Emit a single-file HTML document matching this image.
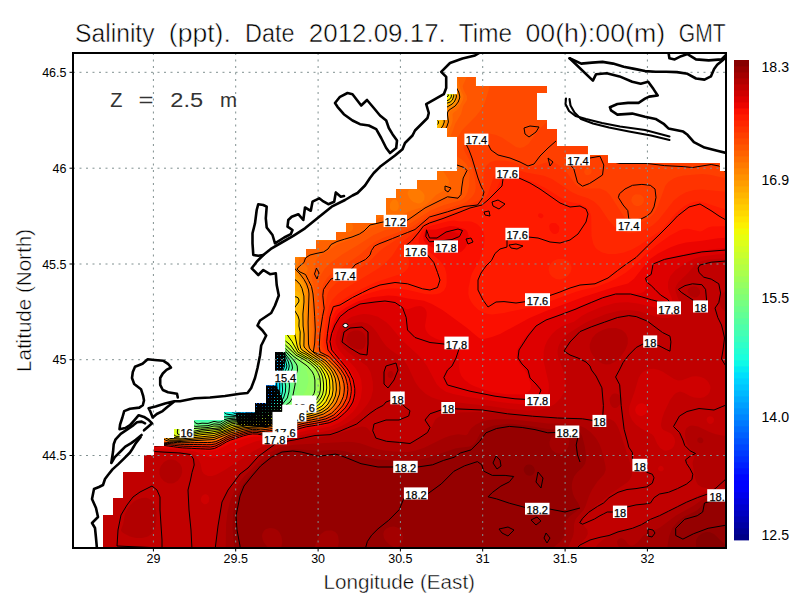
<!DOCTYPE html><html><head><meta charset="utf-8"><style>html,body{margin:0;padding:0;background:#fff;width:800px;height:600px;overflow:hidden}svg{display:block}text{font-family:"Liberation Sans",sans-serif}</style></head><body>
<svg width="800" height="600" viewBox="0 0 800 600">
<rect width="800" height="600" fill="#fff"/>
<defs><clipPath id="sea"><polygon points="457.0,77.0 475.5,77.0 475.5,86.0 547.0,86.0 547.0,93.0 537.0,93.0 537.0,120.0 547.0,120.0 547.0,129.0 557.0,129.0 557.0,146.0 587.5,146.0 587.5,155.5 608.0,155.5 608.0,163.0 719.5,163.0 719.5,171.5 726.0,171.5 726.0,548.0 103.0,548.0 103.0,515.0 113.0,515.0 113.0,498.0 123.0,498.0 123.0,472.0 144.0,472.0 144.0,455.0 154.0,455.0 154.0,446.0 164.0,446.0 164.0,438.0 174.0,438.0 174.0,429.0 194.0,429.0 194.0,420.5 224.0,420.5 224.0,412.5 255.0,412.5 255.0,403.0 266.0,403.0 266.0,385.5 275.0,385.5 275.0,352.0 285.5,352.0 285.5,335.0 295.0,335.0 295.0,257.5 306.0,257.5 306.0,249.0 316.0,249.0 316.0,240.5 336.0,240.5 336.0,232.0 346.0,232.0 346.0,223.0 376.0,223.0 376.0,215.0 386.0,215.0 386.0,198.0 396.0,198.0 396.0,189.0 417.0,189.0 417.0,180.0 437.0,180.0 437.0,171.0 457.0,171.0 457.0,136.5 447.0,136.5 447.0,128.0 437.5,128.0 437.5,120.0 447.0,120.0 447.0,94.5 457.0,94.5"/></clipPath><clipPath id="frm"><rect x="73" y="53" width="653" height="495"/></clipPath></defs>
<g clip-path="url(#sea)">
<rect x="60" y="40" width="700" height="520" fill="rgb(0,70,255)"/>
<path fill-rule="evenodd" fill="rgb(0,83,255)" d="M730.0 552.1 70.0 552.1 69.9 50.0 730.0 49.9 730.0 552.1Z"/>
<path fill-rule="evenodd" fill="rgb(0,96,255)" d="M730.0 552.1 70.0 552.1 69.9 50.0 730.0 49.9 730.0 552.1ZM263.4 404.0 263.3 400.0 262.0 396.9 260.0 396.5 258.0 397.0 257.2 398.0 256.8 400.0 257.6 404.0 260.0 405.9 262.0 405.6 263.4 404.0Z"/>
<path fill-rule="evenodd" fill="rgb(0,108,255)" d="M730.0 552.1 70.0 552.1 69.9 50.0 730.0 49.9 730.0 552.1ZM263.0 406.0 264.4 404.0 266.0 398.7 270.0 394.6 269.7 392.0 268.0 390.8 266.0 390.4 258.0 390.4 250.0 389.1 248.0 389.2 246.6 390.0 246.7 392.0 247.9 394.0 255.4 404.0 257.8 406.0 260.0 406.6 263.0 406.0Z"/>
<path fill-rule="evenodd" fill="rgb(0,121,255)" d="M730.0 552.1 70.0 552.1 69.9 50.0 730.0 49.9 730.0 552.1ZM264.1 406.0 266.8 400.0 270.6 396.0 271.5 394.0 271.2 392.0 270.0 390.1 261.4 386.0 258.6 384.0 247.9 374.0 245.1 372.0 238.1 368.0 231.7 366.0 231.7 368.0 234.0 372.1 238.8 378.0 241.1 382.0 242.0 388.9 244.0 393.1 248.0 399.0 252.4 404.0 255.5 406.0 260.0 407.3 262.0 407.1 264.1 406.0Z"/>
<path fill-rule="evenodd" fill="rgb(0,134,255)" d="M730.0 552.1 70.0 552.1 69.9 50.0 730.0 49.9 730.0 552.1ZM260.2 408.0 262.0 407.8 264.8 406.0 268.0 400.2 271.7 396.0 272.5 394.0 272.4 392.0 271.4 390.0 270.0 388.3 264.5 384.0 256.7 376.0 248.6 370.0 236.0 364.0 229.2 362.0 226.0 362.0 226.3 364.0 230.0 370.2 238.4 382.0 240.0 388.0 242.0 392.5 248.0 402.9 250.0 405.5 252.0 406.6 260.2 408.0Z"/>
<path fill-rule="evenodd" fill="rgb(0,147,255)" d="M730.0 552.1 70.0 552.1 69.9 50.0 730.0 49.9 730.0 552.1ZM250.2 410.0 254.0 408.2 262.0 408.3 265.5 406.0 268.0 401.7 272.6 396.0 273.2 392.0 272.0 388.8 263.3 378.0 258.7 374.0 252.6 370.0 236.0 362.5 227.0 360.0 224.1 360.0 223.9 362.0 226.0 365.9 232.0 375.4 237.0 382.0 240.0 390.8 244.0 399.6 248.0 408.0 249.6 410.0 250.2 410.0Z"/>
<path fill-rule="evenodd" fill="rgb(0,159,255)" d="M730.0 552.1 70.0 552.1 70.0 50.0 730.0 49.9 730.0 552.1ZM250.2 412.0 254.0 409.3 262.0 408.7 264.0 407.9 266.1 406.0 268.7 402.0 272.2 398.0 274.0 394.3 274.0 391.5 272.0 386.6 267.2 378.0 260.0 371.7 252.0 367.4 238.0 361.9 224.0 358.2 222.3 360.0 223.8 364.0 236.9 384.0 246.2 410.0 248.0 411.6 250.2 412.0Z"/>
<path fill-rule="evenodd" fill="rgb(0,172,255)" d="M730.0 552.1 70.0 552.1 70.0 50.0 730.0 49.9 730.0 552.1ZM251.9 412.0 254.0 410.3 256.0 409.5 262.0 409.1 264.6 408.0 266.8 406.0 274.2 396.0 274.8 394.0 274.5 390.0 272.3 384.0 270.6 376.0 268.9 372.0 266.8 370.0 262.4 368.0 234.0 359.5 224.0 356.9 222.0 357.0 221.2 358.0 222.0 362.2 236.0 384.0 240.6 398.0 243.8 410.0 248.0 412.6 250.0 412.9 251.9 412.0ZM274.7 370.0 278.0 367.8 278.7 366.0 278.0 363.9 276.0 363.4 273.9 364.0 271.6 366.0 270.3 368.0 270.8 370.0 272.0 370.4 274.7 370.0Z"/>
<path fill-rule="evenodd" fill="rgb(0,185,255)" d="M730.0 552.1 70.0 552.1 70.0 50.0 730.0 49.9 730.0 552.1ZM252.8 412.0 256.0 410.1 262.0 409.5 265.3 408.0 274.0 397.7 275.5 394.0 275.6 392.0 273.9 384.0 273.8 380.0 276.8 372.0 280.0 367.5 280.4 366.0 280.0 363.7 278.0 361.2 276.0 360.5 268.0 361.5 250.0 361.3 242.0 360.1 224.0 355.5 222.0 355.2 220.6 356.0 219.9 358.0 222.0 363.6 235.1 384.0 239.6 400.0 240.7 410.0 248.0 413.4 250.0 413.7 252.8 412.0Z"/>
<path fill-rule="evenodd" fill="rgb(0,198,255)" d="M730.0 552.1 70.0 552.1 70.0 50.0 730.0 49.9 730.0 552.1ZM250.7 414.0 256.0 410.7 262.0 409.9 266.0 408.0 274.6 398.0 275.7 396.0 276.4 392.0 275.2 384.0 275.5 380.0 277.5 374.0 281.5 366.0 281.3 364.0 280.0 361.1 278.0 358.7 276.0 357.9 242.0 357.2 232.7 356.0 222.0 353.3 220.0 353.7 219.0 356.0 219.1 358.0 220.4 362.0 233.1 382.0 234.9 386.0 237.7 398.0 238.4 410.0 240.0 412.1 244.0 412.6 248.0 414.1 250.7 414.0Z"/>
<path fill-rule="evenodd" fill="rgb(0,210,255)" d="M730.0 552.1 70.0 552.1 70.0 50.0 730.0 49.9 730.0 552.1ZM251.9 414.0 256.0 411.2 262.0 410.2 266.6 408.0 275.4 398.0 276.4 396.0 277.2 392.0 276.4 384.0 276.8 380.0 278.6 374.0 281.9 368.0 282.5 366.0 282.0 363.0 280.0 358.5 278.0 356.5 272.0 355.0 266.3 352.0 254.5 342.0 248.3 338.0 234.0 331.0 226.2 326.0 216.0 321.0 208.2 316.0 198.0 311.0 186.6 304.0 180.0 301.0 174.9 298.0 169.6 296.0 169.7 298.0 172.0 301.5 179.7 310.0 192.0 326.2 195.9 330.0 200.0 333.0 207.3 340.0 214.0 345.0 216.9 348.0 217.7 350.0 217.8 356.0 219.7 362.0 232.2 382.0 234.0 386.0 235.9 396.0 236.3 408.0 236.6 410.0 237.8 412.0 240.0 413.0 244.0 413.3 248.0 414.5 250.0 414.7 251.9 414.0Z"/>
<path fill-rule="evenodd" fill="rgb(0,223,252)" d="M730.0 552.1 70.0 552.1 70.0 50.0 730.0 49.9 730.0 552.1ZM252.6 414.0 256.0 411.7 263.9 410.0 267.3 408.0 274.8 400.0 277.2 396.0 278.0 392.0 277.5 384.0 277.8 380.0 279.5 374.0 282.8 368.0 283.3 366.0 282.5 362.0 280.0 356.6 278.0 355.0 272.0 352.4 262.7 344.0 254.0 338.0 232.0 326.8 228.1 324.0 214.0 316.8 206.5 312.0 196.0 306.8 188.5 302.0 172.7 294.0 166.7 292.0 162.0 291.3 161.2 292.0 162.1 294.0 167.3 300.0 170.0 304.0 175.7 310.0 192.0 331.0 204.0 342.1 212.0 348.2 215.3 352.0 218.9 362.0 232.2 384.0 234.0 394.0 234.3 408.0 234.8 410.0 236.2 412.0 240.0 414.0 244.0 414.0 250.0 415.1 252.6 414.0Z"/>
<path fill-rule="evenodd" fill="rgb(5,236,242)" d="M730.0 552.1 70.0 552.1 70.0 50.0 730.0 50.0 730.0 552.1ZM253.2 414.0 256.0 412.2 262.0 410.9 266.0 409.3 272.1 404.0 277.1 398.0 278.9 392.0 278.5 382.0 279.0 378.0 284.1 366.0 283.3 362.0 280.7 356.0 278.0 353.8 274.0 351.8 265.1 344.0 255.9 338.0 234.0 326.8 226.6 322.0 216.0 316.8 208.6 312.0 198.0 306.8 190.6 302.0 175.0 294.0 163.1 290.0 159.3 290.0 159.4 292.0 160.6 294.0 170.0 305.7 175.8 312.0 192.0 333.0 203.6 344.0 210.0 348.7 214.0 352.8 219.1 364.0 226.0 374.9 230.7 384.0 231.7 390.0 232.0 406.0 232.7 410.0 234.4 412.0 237.7 414.0 240.0 414.5 244.0 414.4 250.0 415.5 253.2 414.0Z"/>
<path fill-rule="evenodd" fill="rgb(15,249,231)" d="M730.0 552.1 70.0 552.1 70.0 50.0 730.0 50.0 730.0 552.1ZM253.9 414.0 256.0 412.6 264.0 410.7 268.0 408.4 274.9 402.0 277.9 398.0 279.7 392.0 279.4 382.0 279.8 378.0 281.1 374.0 284.4 368.0 284.8 366.0 284.1 362.0 281.6 356.0 280.0 354.2 274.0 350.2 266.9 344.0 260.6 340.0 250.0 334.0 236.0 327.1 228.0 322.0 218.0 317.1 210.0 312.0 196.0 304.8 192.0 302.0 176.3 294.0 171.4 292.0 162.0 289.3 158.0 289.5 157.5 290.0 159.4 294.0 164.7 300.0 168.0 304.7 174.7 312.0 192.0 334.6 202.0 344.6 210.0 350.8 214.0 355.4 216.9 362.0 224.0 373.4 228.2 382.0 229.1 386.0 229.4 406.0 230.1 410.0 231.8 412.0 236.1 414.0 240.0 415.0 244.0 414.8 250.0 415.9 253.9 414.0Z"/>
<path fill-rule="evenodd" fill="rgb(26,255,221)" d="M730.0 552.1 70.0 552.1 70.0 50.0 730.0 50.0 730.0 552.1ZM251.0 416.0 256.0 413.0 264.0 411.0 268.0 408.9 273.9 404.0 278.8 398.0 280.7 392.0 280.5 378.0 281.9 374.0 285.1 368.0 285.5 366.0 284.9 362.0 282.0 355.5 280.0 353.3 275.3 350.0 268.4 344.0 265.2 342.0 251.1 334.0 234.0 325.4 228.8 322.0 216.0 315.4 210.8 312.0 198.0 305.4 189.2 300.0 172.9 292.0 162.0 288.7 158.0 288.2 156.2 290.0 158.5 294.0 181.7 322.0 196.0 341.2 202.0 347.4 208.0 351.7 212.0 355.8 217.3 366.0 222.0 373.2 224.0 376.9 225.5 382.0 226.1 404.0 226.6 408.0 228.5 412.0 238.0 415.2 251.0 416.0Z"/>
<path fill-rule="evenodd" fill="rgb(36,255,211)" d="M730.0 552.1 70.0 552.1 70.0 50.0 730.0 50.0 730.0 552.1ZM252.0 416.0 256.0 413.4 264.0 411.4 268.0 409.4 274.9 404.0 279.7 398.0 281.3 394.0 281.8 390.0 281.3 378.0 282.0 375.4 285.9 368.0 286.3 366.0 284.9 360.0 282.0 354.5 272.2 346.0 266.4 342.0 252.1 334.0 234.0 324.9 226.3 320.0 216.0 314.9 208.3 310.0 198.0 304.9 190.2 300.0 174.0 292.0 161.2 288.0 156.0 287.6 154.7 288.0 155.1 290.0 158.0 294.6 182.0 323.6 193.0 340.0 197.4 352.0 200.0 362.3 206.0 381.0 208.0 386.6 212.0 394.2 220.6 404.0 225.8 412.0 228.0 413.7 240.0 416.0 244.0 415.7 250.0 416.6 252.0 416.0Z"/>
<path fill-rule="evenodd" fill="rgb(46,255,201)" d="M730.0 552.1 70.0 552.1 70.0 50.0 730.0 50.0 730.0 552.1ZM252.6 416.0 258.0 413.1 266.0 410.9 271.0 408.0 277.9 402.0 280.8 398.0 282.3 394.0 282.9 390.0 282.0 378.0 283.5 374.0 286.8 368.0 287.1 366.0 285.6 360.0 282.3 354.0 273.3 346.0 267.6 342.0 234.0 324.4 227.1 320.0 216.0 314.4 191.0 300.0 175.0 292.0 162.0 287.8 154.0 287.3 153.1 288.0 158.0 295.8 180.0 322.2 189.5 336.0 192.1 342.0 198.0 363.4 205.2 386.0 209.8 396.0 212.0 399.2 222.8 412.0 225.5 414.0 230.0 415.3 234.0 415.4 240.0 416.4 244.0 416.1 250.0 416.9 252.6 416.0Z"/>
<path fill-rule="evenodd" fill="rgb(57,255,190)" d="M730.0 552.1 70.0 552.1 70.0 50.0 730.0 50.0 730.0 552.1ZM253.2 416.0 256.7 414.0 264.0 412.1 270.0 409.2 277.0 404.0 281.8 398.0 283.3 394.0 283.9 390.0 282.8 378.0 284.0 374.6 286.9 370.0 287.9 366.0 286.4 360.0 282.9 354.0 274.3 346.0 268.6 342.0 236.0 325.1 227.9 320.0 218.0 315.1 191.8 300.0 175.8 292.0 164.0 288.0 154.0 286.2 152.0 287.5 151.8 288.0 153.0 290.0 157.2 296.0 180.0 323.4 188.0 335.1 190.7 342.0 196.1 362.0 203.4 386.0 208.7 398.0 216.0 408.2 221.4 414.0 228.0 415.9 234.0 416.0 240.0 416.8 244.0 416.4 250.0 417.3 253.2 416.0Z"/>
<path fill-rule="evenodd" fill="rgb(67,255,180)" d="M730.0 552.1 70.0 552.1 70.0 50.0 730.0 50.0 730.0 552.1ZM253.8 416.0 258.0 413.8 266.0 411.7 272.9 408.0 280.1 402.0 283.0 398.0 284.5 394.0 285.1 390.0 285.1 386.0 283.7 378.0 284.3 376.0 287.8 370.0 288.8 366.0 287.1 360.0 283.6 354.0 275.3 346.0 269.5 342.0 236.0 324.7 228.6 320.0 218.0 314.7 192.0 299.7 176.0 291.8 171.0 290.0 164.0 287.8 156.0 286.0 150.7 286.0 150.4 288.0 156.1 296.0 179.3 324.0 186.3 334.0 189.2 342.0 203.0 390.0 207.2 400.0 216.6 414.0 218.0 415.7 220.0 416.8 234.0 416.5 240.0 417.2 244.0 416.7 250.0 417.6 253.8 416.0Z"/>
<path fill-rule="evenodd" fill="rgb(77,255,170)" d="M730.0 552.1 70.0 552.1 70.0 50.0 730.0 50.0 730.0 552.1ZM208.4 420.0 212.0 417.3 214.0 417.2 218.0 419.2 220.0 419.4 224.0 417.5 226.0 417.3 234.0 417.0 240.0 417.6 244.0 417.1 250.0 417.9 252.0 417.4 258.0 414.2 264.0 412.9 268.0 411.3 276.9 406.0 283.0 400.0 285.7 394.0 286.3 386.0 284.9 378.0 285.4 376.0 289.0 370.0 289.6 368.0 289.8 366.0 288.9 362.0 285.6 356.0 282.0 351.4 276.2 346.0 270.4 342.0 236.0 324.3 229.2 320.0 216.0 313.2 192.0 299.4 176.0 291.5 165.7 288.0 154.0 285.4 148.5 286.0 148.5 288.0 164.1 308.0 170.0 314.4 178.0 324.4 185.8 336.0 196.0 372.6 201.0 394.0 201.9 402.0 201.9 416.0 202.6 418.0 205.7 420.0 208.4 420.0Z"/>
<path fill-rule="evenodd" fill="rgb(87,255,159)" d="M730.0 552.1 70.0 552.0 70.0 50.0 730.0 50.0 730.0 552.1ZM208.4 422.0 214.0 419.8 220.0 420.9 224.0 418.6 226.0 418.1 234.0 417.5 240.0 418.0 244.0 417.4 250.0 418.2 252.0 417.7 258.0 414.6 268.0 411.7 278.2 406.0 284.3 400.0 286.9 394.0 287.7 386.0 286.3 378.0 290.8 368.0 290.5 364.0 288.8 360.0 282.0 350.7 277.1 346.0 271.1 342.0 236.0 323.9 229.8 320.0 216.0 312.8 211.8 310.0 198.0 302.8 190.0 298.0 174.0 290.5 164.0 287.3 156.0 285.4 150.0 284.8 144.6 286.0 144.0 287.1 140.2 288.0 184.0 397.5 192.0 409.2 194.0 413.3 196.1 420.0 198.0 421.6 208.4 422.0Z"/>
<path fill-rule="evenodd" fill="rgb(98,255,149)" d="M730.0 552.1 70.0 552.0 70.0 50.0 730.0 50.0 730.0 552.1ZM220.1 422.0 226.0 418.8 234.0 418.0 240.0 418.4 244.0 417.8 250.0 418.5 252.0 418.1 258.0 415.0 264.0 413.6 272.0 410.5 276.5 408.0 282.1 404.0 284.2 402.0 287.0 398.0 288.6 392.0 289.2 386.0 288.2 378.0 291.7 370.0 292.1 368.0 291.7 364.0 289.7 360.0 282.0 349.9 275.1 344.0 270.0 340.9 236.0 323.5 230.0 319.7 218.0 313.5 192.0 298.7 176.0 291.0 167.3 288.0 152.0 284.3 146.0 284.3 142.0 283.4 134.0 278.2 133.0 280.0 134.0 284.1 178.0 394.1 184.0 406.4 191.4 416.0 195.0 422.0 196.0 422.8 198.0 423.5 202.0 422.9 208.0 423.2 214.0 421.1 220.1 422.0Z"/>
<path fill-rule="evenodd" fill="rgb(108,255,139)" d="M730.0 552.1 70.0 552.0 70.0 50.0 730.0 50.0 730.0 552.1ZM208.7 424.0 214.0 422.2 220.0 422.9 224.8 420.0 228.0 419.1 234.0 418.4 240.0 418.8 244.0 418.1 250.0 418.9 252.0 418.4 258.0 415.4 266.0 413.4 272.0 411.1 281.2 406.0 285.9 402.0 287.5 400.0 289.2 396.0 290.8 386.0 290.5 378.0 293.4 370.0 293.6 368.0 293.0 364.0 292.0 362.0 282.8 350.0 276.0 344.0 270.0 340.4 236.0 323.1 230.0 319.3 218.0 313.1 192.0 298.3 176.0 290.7 168.0 288.0 152.4 284.0 144.0 283.3 132.7 276.0 132.0 275.6 130.6 276.0 132.0 282.1 176.0 392.1 182.0 405.7 192.9 422.0 195.2 424.0 198.0 424.7 208.7 424.0Z"/>
<path fill-rule="evenodd" fill="rgb(118,255,129)" d="M730.0 552.0 70.0 552.0 70.0 50.0 730.0 50.0 730.0 552.0ZM211.1 424.0 214.0 423.0 220.0 423.7 226.0 420.2 232.0 419.1 240.0 419.2 244.0 418.5 250.0 419.2 252.0 418.7 258.0 415.8 264.0 414.4 274.0 410.9 279.6 408.0 285.6 404.0 289.3 400.0 290.9 396.0 292.8 384.0 292.8 378.0 295.3 370.0 295.2 366.0 293.4 362.0 282.0 348.3 276.9 344.0 270.0 339.9 236.0 322.8 230.0 319.0 218.0 312.8 194.0 299.1 174.0 289.7 154.0 284.0 144.0 282.5 138.0 279.0 134.0 275.8 129.8 274.0 129.2 276.0 131.9 284.0 176.0 394.3 182.0 407.5 191.1 422.0 194.0 424.7 198.0 425.6 202.0 424.9 208.0 424.9 211.1 424.0Z"/>
<path fill-rule="evenodd" fill="rgb(129,255,118)" d="M730.0 552.0 70.0 552.0 70.0 50.0 730.0 50.0 730.0 552.0ZM200.9 426.0 208.0 425.7 214.0 423.9 220.0 424.4 226.0 420.8 232.0 419.6 240.0 419.6 244.0 418.9 250.0 419.5 252.0 419.1 258.0 416.2 273.0 412.0 284.9 406.0 290.0 402.0 292.4 398.0 295.2 384.0 295.1 378.0 297.5 370.0 297.2 366.0 296.3 364.0 293.5 360.0 282.5 348.0 277.8 344.0 270.0 339.5 236.0 322.4 230.0 318.6 218.0 312.4 212.0 308.6 200.0 302.4 194.0 298.7 174.0 289.5 163.1 286.0 144.0 281.9 138.0 278.3 132.0 273.9 130.0 273.3 128.0 273.7 128.3 276.0 131.2 284.0 180.0 405.4 186.0 416.5 191.0 424.0 193.9 426.0 196.0 426.4 200.9 426.0Z"/>
<path fill-rule="evenodd" fill="rgb(139,255,108)" d="M730.0 552.0 70.0 552.0 70.0 50.0 730.0 50.0 730.0 552.0ZM209.6 426.0 214.0 424.7 220.0 425.1 222.0 424.3 226.0 421.5 232.0 420.1 240.0 419.9 244.0 419.2 250.0 419.8 252.0 419.4 258.0 416.7 274.8 412.0 283.6 408.0 290.4 404.0 292.8 402.0 295.3 398.0 296.1 392.0 298.5 386.0 298.6 378.0 300.7 370.0 299.8 366.0 297.1 362.0 288.0 353.4 281.3 346.0 271.8 340.0 236.0 322.1 228.0 317.1 218.0 312.1 210.0 307.1 200.0 302.1 192.0 297.3 174.0 289.2 164.0 286.0 144.0 281.5 133.0 274.0 130.0 272.6 128.0 272.3 127.1 274.0 130.6 284.0 174.6 394.0 179.6 406.0 186.0 418.7 190.0 425.1 192.0 426.5 196.0 427.3 209.6 426.0Z"/>
<path fill-rule="evenodd" fill="rgb(149,255,98)" d="M730.0 552.0 70.0 552.0 70.0 50.0 730.0 50.0 730.0 552.0ZM197.1 428.0 208.0 427.0 214.0 425.4 220.0 425.8 226.4 422.0 232.0 420.5 240.0 420.3 244.0 419.6 250.0 420.1 252.0 419.8 258.0 417.2 276.7 412.0 294.0 404.0 297.2 402.0 301.3 398.0 305.1 392.0 306.8 388.0 308.2 382.0 308.4 378.0 306.3 370.0 303.8 366.0 302.0 364.0 290.0 354.2 282.3 346.0 278.0 342.9 272.0 339.6 264.0 336.0 236.7 322.0 230.0 317.8 218.7 312.0 212.0 307.8 192.0 297.0 176.0 289.7 164.0 285.8 144.0 281.1 132.0 273.0 130.0 272.0 128.0 271.6 126.8 272.0 126.3 274.0 129.9 284.0 178.0 404.0 188.6 426.0 190.0 427.4 192.0 428.0 197.1 428.0Z"/>
<path fill-rule="evenodd" fill="rgb(159,255,87)" d="M730.0 552.0 70.0 552.0 70.0 50.0 730.0 50.0 730.0 552.0ZM201.4 428.0 208.0 427.6 214.0 426.2 220.0 426.4 227.8 422.0 232.0 421.0 240.0 420.8 244.0 420.0 250.0 420.5 252.0 420.1 258.0 417.6 276.0 413.0 309.4 400.0 312.1 398.0 314.0 395.7 316.0 390.0 316.0 380.0 314.0 373.2 312.1 370.0 308.2 366.0 294.0 356.4 288.9 352.0 283.4 346.0 278.0 342.2 237.5 322.0 230.0 317.3 219.5 312.0 212.0 307.3 192.0 296.6 176.0 289.4 164.0 285.5 144.0 280.7 132.0 272.6 128.0 271.1 126.0 271.5 125.6 274.0 129.3 284.0 173.3 394.0 187.5 428.0 190.0 429.2 201.4 428.0Z"/>
<path fill-rule="evenodd" fill="rgb(170,255,77)" d="M730.0 552.0 70.0 552.0 70.0 50.0 730.0 50.0 730.0 552.0ZM193.3 430.0 202.0 428.5 208.0 428.2 214.0 426.9 220.0 426.9 222.0 426.2 228.0 422.5 232.0 421.5 240.0 421.2 244.0 420.4 252.0 420.5 258.3 418.0 276.0 413.8 290.0 408.6 310.0 402.2 313.2 400.0 315.1 398.0 317.9 392.0 318.2 380.0 316.0 372.6 312.7 368.0 308.3 364.0 294.0 355.2 284.0 345.5 280.0 342.5 265.9 336.0 238.4 322.0 230.0 316.8 220.4 312.0 212.0 306.8 194.0 297.2 176.0 289.2 164.0 285.3 146.0 281.1 142.0 279.1 132.0 272.1 128.0 270.6 126.0 270.5 124.8 272.0 125.6 276.0 172.7 394.0 181.2 414.0 183.9 422.0 185.9 430.0 188.0 430.6 193.3 430.0Z"/>
<path fill-rule="evenodd" fill="rgb(180,255,67)" d="M730.0 552.0 70.0 552.0 70.0 50.0 730.0 50.0 730.0 552.0ZM197.2 430.0 208.0 428.8 214.0 427.6 220.0 427.5 222.0 426.8 228.0 423.1 232.0 422.0 240.0 421.6 244.0 420.8 252.0 420.8 260.0 418.0 276.0 414.5 290.0 409.6 309.1 404.0 312.8 402.0 315.2 400.0 318.0 396.1 318.8 394.0 319.7 390.0 319.9 384.0 319.2 378.0 318.0 373.9 316.0 370.0 310.1 364.0 304.0 360.0 296.0 355.7 284.0 344.3 280.0 341.6 263.1 334.0 239.5 322.0 228.0 315.1 217.8 310.0 210.0 305.2 194.0 296.8 176.0 288.9 164.0 285.1 146.0 280.7 140.0 277.4 132.0 271.8 128.0 270.1 125.0 270.0 123.9 272.0 124.9 276.0 180.3 414.0 183.1 424.0 183.6 430.0 186.0 431.8 188.0 431.8 197.2 430.0Z"/>
<path fill-rule="evenodd" fill="rgb(190,255,57)" d="M730.0 552.0 70.0 552.0 70.0 50.0 730.0 50.0 730.0 552.0ZM191.5 432.0 202.0 429.8 220.0 428.0 228.0 423.8 232.0 422.5 244.0 421.3 252.0 421.2 260.0 418.6 278.0 414.6 290.0 410.5 306.5 406.0 311.6 404.0 316.7 400.0 320.1 394.0 320.9 390.0 321.1 384.0 320.4 378.0 319.2 374.0 316.0 368.4 311.4 364.0 305.6 360.0 296.0 354.8 287.4 346.0 284.0 343.0 280.0 340.6 264.4 334.0 240.8 322.0 230.0 315.5 219.0 310.0 214.0 306.7 194.0 296.4 176.0 288.7 164.0 284.9 146.0 280.4 140.0 277.1 132.0 271.4 128.0 269.7 126.0 269.3 124.0 269.6 123.4 270.0 123.1 272.0 124.2 276.0 178.6 412.0 180.0 416.1 181.5 424.0 182.0 432.0 186.0 432.7 191.5 432.0Z"/>
<path fill-rule="evenodd" fill="rgb(201,255,46)" d="M730.0 552.0 70.0 552.0 70.0 50.0 730.0 50.0 730.0 552.0ZM194.2 432.0 202.0 430.4 220.0 428.5 228.0 424.4 232.0 423.1 244.0 421.7 252.0 421.6 260.0 419.2 276.0 415.9 310.0 405.8 316.2 402.0 319.4 398.0 321.2 394.0 322.0 390.0 322.2 384.0 321.5 378.0 320.3 374.0 316.8 368.0 312.6 364.0 307.0 360.0 296.1 354.0 288.0 345.0 284.0 341.7 280.0 339.2 262.3 332.0 238.7 320.0 230.0 314.5 220.7 310.0 212.0 304.6 196.0 296.9 176.0 288.5 164.0 284.6 146.0 280.1 140.0 276.7 132.0 271.1 128.0 269.4 124.0 268.7 122.2 270.0 122.2 272.0 123.2 276.0 170.0 392.3 178.0 413.4 180.4 428.0 179.8 432.0 182.0 433.8 188.0 433.3 194.2 432.0Z"/>
<path fill-rule="evenodd" fill="rgb(211,255,36)" d="M730.0 552.0 70.0 552.0 70.0 50.0 730.0 50.0 730.0 552.0ZM187.7 434.0 200.0 431.3 220.0 429.0 228.0 425.0 232.0 423.6 244.0 422.1 252.0 421.9 260.0 419.7 274.0 417.0 311.6 406.0 315.1 404.0 318.0 401.5 320.6 398.0 322.4 394.0 323.1 390.0 323.3 384.0 322.6 378.0 321.3 374.0 319.3 370.0 316.0 366.0 308.0 359.8 297.2 354.0 295.0 352.0 290.0 345.2 280.0 337.3 265.8 332.0 238.2 318.0 230.0 312.7 210.0 302.5 176.0 288.2 164.0 284.4 146.0 279.8 140.0 276.4 132.0 270.8 126.0 268.3 123.0 268.0 120.6 270.0 121.2 274.0 172.0 400.5 175.9 412.0 177.2 422.0 178.5 428.0 177.8 432.0 178.2 434.0 182.0 434.6 187.7 434.0Z"/>
<path fill-rule="evenodd" fill="rgb(221,255,26)" d="M730.0 552.0 70.0 552.0 70.0 318.2 72.0 318.6 78.0 323.5 168.0 413.7 172.0 419.0 174.0 423.2 176.1 428.0 176.1 434.0 178.0 435.1 182.0 435.3 190.9 434.0 200.0 431.9 220.0 429.5 232.0 424.2 244.0 422.6 252.0 422.3 274.0 417.7 310.0 407.6 316.0 404.5 320.5 400.0 323.5 394.0 324.5 386.0 324.0 380.0 323.0 376.0 320.2 370.0 318.0 367.1 309.4 360.0 298.0 353.8 295.9 352.0 290.0 343.5 271.8 326.0 263.4 320.0 255.9 316.0 246.0 312.8 239.8 310.0 234.0 308.7 206.0 299.9 174.0 287.3 146.0 279.4 140.0 276.0 134.0 271.5 126.0 267.8 122.0 267.5 118.8 268.0 118.0 268.6 116.0 268.2 102.0 259.1 89.7 250.0 70.0 236.7 70.0 50.0 730.0 50.0 730.0 552.0Z"/>
<path fill-rule="evenodd" fill="rgb(231,255,15)" d="M730.0 552.0 70.0 552.0 70.0 323.8 72.0 324.4 74.1 326.0 104.0 357.4 168.0 421.5 172.9 428.0 174.4 434.0 177.5 436.0 182.0 436.0 200.0 432.5 210.0 431.6 220.0 430.0 232.0 424.8 244.0 423.1 252.0 422.7 272.0 418.8 310.0 408.4 314.0 406.7 318.0 404.2 321.8 400.0 324.6 394.0 325.6 386.0 325.1 380.0 324.1 376.0 322.4 372.0 319.8 368.0 315.7 364.0 310.5 360.0 304.0 356.0 299.5 354.0 296.9 352.0 292.0 343.8 280.3 330.0 273.6 324.0 267.5 320.0 255.5 314.0 246.0 310.9 239.2 308.0 234.0 306.9 219.2 302.0 206.0 298.8 182.0 290.3 176.0 287.6 146.0 279.1 140.5 276.0 134.0 271.2 130.0 269.2 126.0 267.4 120.0 266.7 118.0 265.9 102.0 255.2 72.3 234.0 70.0 233.0 70.0 50.0 730.0 50.0 730.0 552.0Z"/>
<path fill-rule="evenodd" fill="rgb(242,251,5)" d="M730.0 552.0 70.0 552.0 70.0 325.3 74.0 327.8 114.0 371.0 166.7 424.0 170.0 428.0 172.9 434.0 176.0 436.3 182.0 436.5 200.0 433.1 210.0 432.3 220.0 430.6 232.0 425.4 244.0 423.5 252.0 423.1 272.0 419.4 310.0 409.3 317.1 406.0 322.0 401.5 324.2 398.0 325.8 394.0 326.7 386.0 326.2 380.0 325.2 376.0 323.4 372.0 320.8 368.0 316.8 364.0 311.5 360.0 297.8 352.0 296.3 350.0 292.0 341.6 283.8 330.0 279.5 326.0 270.4 320.0 258.0 313.9 240.0 307.1 220.0 301.2 200.0 296.1 182.0 290.1 176.0 287.3 146.0 278.8 132.0 269.8 126.0 267.0 118.0 264.8 80.0 238.5 74.3 234.0 70.0 231.6 70.0 50.0 298.1 50.0 312.1 56.0 322.0 59.1 338.1 66.0 348.0 69.1 364.1 76.0 374.0 79.1 380.1 82.0 384.0 83.1 390.1 86.0 400.0 89.1 406.2 92.0 414.0 94.0 436.0 94.6 446.0 97.4 448.3 96.0 448.0 93.6 446.0 91.0 440.1 86.0 431.5 82.0 418.0 77.2 406.0 71.3 398.0 66.0 388.0 61.3 382.0 57.5 378.0 54.0 376.5 52.0 376.1 50.0 730.0 50.0 730.0 552.0Z"/>
<path fill-rule="evenodd" fill="rgb(252,240,0)" d="M730.0 552.0 70.0 552.0 70.0 326.3 72.0 327.2 74.0 329.0 96.9 354.0 101.7 360.0 122.0 381.7 165.9 426.0 169.2 430.0 172.0 434.8 173.3 436.0 176.0 436.9 182.0 436.9 200.0 433.7 210.0 432.9 218.0 431.6 222.0 430.5 232.2 426.0 244.0 424.0 254.0 423.2 272.0 420.1 312.0 409.5 318.9 406.0 323.0 402.0 325.5 398.0 327.1 394.0 327.8 386.0 327.4 380.0 326.3 376.0 324.5 372.0 321.8 368.0 317.9 364.0 312.0 359.6 306.0 355.7 300.0 352.8 298.0 351.2 292.0 338.1 288.4 332.0 285.2 328.0 279.9 324.0 272.0 319.6 258.0 312.9 240.0 306.1 219.4 300.0 198.0 294.8 182.9 290.0 176.0 287.0 146.0 278.4 132.0 269.5 126.0 266.6 120.0 265.0 118.4 264.0 80.0 237.5 75.7 234.0 70.0 230.7 70.0 50.0 291.3 50.0 310.0 58.1 320.0 61.4 362.0 78.1 372.0 81.4 388.0 88.1 410.1 96.0 418.0 97.6 438.0 97.8 446.0 98.8 448.4 98.0 449.7 96.0 449.5 94.0 446.8 90.0 442.1 86.0 434.6 82.0 410.0 70.7 398.7 64.0 388.0 58.6 381.2 54.0 379.3 52.0 378.5 50.0 730.0 50.0 730.0 552.0Z"/>
<path fill-rule="evenodd" fill="rgb(255,228,0)" d="M730.0 552.0 70.0 552.0 70.0 327.1 72.0 328.1 83.5 340.0 88.0 346.0 95.8 354.0 100.0 359.5 130.0 391.8 165.8 428.0 171.6 436.0 174.0 437.0 180.0 437.6 202.0 434.0 214.0 433.0 222.0 431.0 230.0 427.4 234.0 426.2 246.0 424.2 256.0 423.4 272.0 420.8 312.0 410.3 320.0 406.5 324.5 402.0 326.8 398.0 328.4 394.0 329.0 386.0 328.2 378.0 326.7 374.0 324.3 370.0 321.1 366.0 316.3 362.0 306.0 355.0 300.0 352.1 298.0 350.1 294.0 337.4 291.6 332.0 288.5 328.0 282.0 323.3 258.0 311.8 240.0 305.1 220.0 299.3 198.0 294.1 184.0 290.0 176.0 286.6 164.0 282.9 159.2 282.0 146.0 278.1 132.0 269.1 126.0 266.2 119.6 264.0 80.0 236.7 74.0 232.1 70.0 229.9 70.0 50.0 287.7 50.0 291.2 52.0 310.0 59.6 320.0 63.0 336.0 69.6 346.0 73.0 362.0 79.6 372.0 83.0 406.0 96.3 418.0 99.4 444.0 100.1 448.0 99.5 450.0 98.0 450.7 96.0 450.5 94.0 449.6 92.0 446.2 88.0 440.6 84.0 410.0 69.5 397.2 62.0 388.0 57.4 382.0 53.2 379.8 50.0 730.0 50.0 730.0 552.0Z"/>
<path fill-rule="evenodd" fill="rgb(255,216,0)" d="M730.0 552.0 70.0 552.0 70.0 327.8 72.0 328.8 82.7 340.0 88.0 346.8 95.1 354.0 100.0 360.5 130.0 393.2 164.3 428.0 170.0 436.0 174.0 437.7 180.0 438.1 202.0 434.7 214.0 433.7 222.0 431.6 234.0 426.8 246.0 424.7 258.0 423.7 274.0 421.1 296.0 415.0 312.0 411.2 320.0 407.7 322.5 406.0 325.9 402.0 328.2 398.0 329.6 394.0 330.2 386.0 329.7 380.0 328.7 376.0 326.7 372.0 323.9 368.0 317.5 362.0 306.0 354.3 301.3 352.0 298.9 350.0 297.4 346.0 295.0 332.0 292.0 327.4 288.0 324.3 282.0 321.2 258.0 310.7 240.0 304.1 220.0 298.4 192.0 291.8 166.0 283.1 146.7 278.0 140.0 274.1 134.0 269.9 126.0 265.8 120.0 263.6 74.9 232.0 70.0 229.3 70.0 50.0 284.9 50.0 288.0 52.2 310.0 61.1 318.8 64.0 336.0 71.1 344.8 74.0 404.0 97.1 416.0 100.7 422.0 101.3 446.0 101.1 449.0 100.0 451.0 98.0 451.6 96.0 451.4 94.0 450.0 91.1 448.0 88.6 441.9 84.0 406.0 66.5 398.9 62.0 386.0 55.3 382.0 52.0 380.7 50.0 730.0 50.0 730.0 552.0Z"/>
<path fill-rule="evenodd" fill="rgb(255,204,0)" d="M730.0 552.0 70.0 552.0 70.0 328.4 72.0 329.5 82.0 340.0 88.0 347.5 94.3 354.0 100.0 361.3 106.6 368.0 128.0 392.3 162.9 428.0 168.7 436.0 172.1 438.0 180.0 438.5 202.0 435.4 214.0 434.4 220.0 432.8 234.0 427.4 246.0 425.2 258.0 424.3 274.0 421.8 296.0 415.8 312.2 412.0 321.5 408.0 326.0 404.0 330.3 396.0 331.3 388.0 331.1 382.0 330.0 376.4 327.9 372.0 325.0 368.0 318.6 362.0 299.9 350.0 298.9 348.0 298.1 344.0 297.6 332.0 294.8 322.0 294.0 320.6 286.0 319.6 274.1 316.0 258.0 309.4 247.7 306.0 240.0 302.7 235.8 302.0 220.0 297.3 188.1 290.0 166.0 282.7 147.8 278.0 140.5 274.0 134.0 269.4 126.0 265.4 120.0 263.0 82.0 236.7 76.0 232.0 70.0 228.7 70.0 50.0 282.5 50.0 284.0 52.0 286.0 53.2 310.0 62.7 319.9 66.0 336.0 72.7 345.9 76.0 362.0 82.7 371.9 86.0 388.0 92.7 412.0 101.4 418.0 102.9 422.0 103.1 444.0 102.4 448.0 101.6 450.0 100.5 452.0 98.0 452.5 96.0 452.3 94.0 450.3 90.0 448.5 88.0 443.1 84.0 408.0 66.8 400.2 62.0 386.0 54.4 383.0 52.0 381.6 50.0 730.0 50.0 730.0 552.0Z"/>
<path fill-rule="evenodd" fill="rgb(255,192,0)" d="M730.0 552.0 70.0 552.0 70.0 328.9 72.0 330.1 81.5 340.0 86.0 346.0 94.0 354.3 100.0 362.0 106.0 368.1 128.0 393.3 163.4 430.0 168.0 436.6 169.8 438.0 172.0 438.5 180.0 438.9 202.0 436.0 214.0 435.1 220.0 433.4 234.2 428.0 246.0 425.7 260.0 424.6 274.0 422.5 314.0 412.3 322.0 408.8 327.3 404.0 329.8 400.0 331.5 396.0 332.5 388.0 332.0 380.0 331.0 376.0 329.0 372.0 326.0 368.0 319.8 362.0 301.3 350.0 300.0 348.2 299.2 344.0 299.3 332.0 298.1 326.0 298.3 320.0 297.6 318.0 296.0 315.9 294.0 314.6 288.0 312.5 274.0 312.0 266.0 310.2 258.0 306.7 249.0 304.0 242.0 301.2 190.7 290.0 182.8 288.0 168.0 282.8 148.0 277.5 141.2 274.0 134.0 269.0 120.0 262.4 82.0 236.1 76.0 231.4 70.0 228.0 70.0 50.0 278.7 50.0 279.4 52.0 282.0 54.7 288.0 57.3 290.9 58.0 308.0 65.3 316.9 68.0 334.0 75.3 342.9 78.0 360.0 85.3 368.9 88.0 386.0 95.3 394.9 98.0 402.0 101.3 414.0 105.5 420.0 106.3 432.0 104.3 444.0 103.6 448.0 102.6 451.7 100.0 452.9 98.0 453.3 96.0 452.4 92.0 449.6 88.0 442.0 82.7 408.0 66.1 400.0 61.2 388.0 55.0 383.9 52.0 382.5 50.0 730.0 50.0 730.0 552.0Z"/>
<path fill-rule="evenodd" fill="rgb(255,181,0)" d="M730.0 552.0 70.0 552.0 70.0 329.4 72.0 330.7 81.0 340.0 86.0 346.6 94.9 356.0 98.0 360.4 107.1 370.0 128.0 394.2 144.0 411.5 162.0 429.8 168.0 437.8 170.0 438.7 180.0 439.3 214.0 435.8 236.0 428.2 246.0 426.2 260.0 425.2 274.0 423.1 314.0 413.1 322.0 409.9 324.9 408.0 328.0 404.8 331.0 400.0 332.7 396.0 333.6 388.0 333.3 382.0 332.0 376.0 330.1 372.0 327.1 368.0 321.0 362.0 302.9 350.0 301.1 348.0 300.4 344.0 300.8 332.0 299.7 326.0 300.0 320.0 296.7 310.0 297.0 308.0 300.0 302.0 300.2 300.0 299.7 298.0 298.0 295.8 294.0 294.8 286.0 295.2 236.0 295.2 219.8 294.0 206.4 292.0 186.6 288.0 164.0 281.1 151.3 278.0 145.6 276.0 134.0 268.6 120.4 262.0 82.0 235.4 76.0 230.7 70.0 227.4 70.0 50.0 260.7 50.0 264.0 53.9 270.0 58.2 282.1 70.0 294.9 80.0 304.0 84.8 318.6 94.0 328.0 98.8 342.6 108.0 366.0 120.8 395.1 138.0 399.6 140.0 404.0 140.8 414.0 144.0 416.0 144.0 419.4 142.0 431.8 130.0 438.0 126.0 439.6 124.0 440.2 122.0 439.4 120.0 432.1 112.0 430.7 110.0 430.4 108.0 434.0 106.0 444.0 104.9 450.0 102.7 452.0 101.0 453.8 98.0 454.0 94.0 453.3 92.0 450.6 88.0 444.0 83.2 408.0 65.5 400.0 60.6 388.0 54.3 384.9 52.0 383.3 50.0 730.0 50.0 730.0 552.0Z"/>
<path fill-rule="evenodd" fill="rgb(255,169,0)" d="M730.0 552.0 70.0 552.0 70.0 329.9 72.0 331.2 80.4 340.0 86.0 347.2 94.0 355.6 98.0 361.0 106.6 370.0 127.1 394.0 142.0 410.5 160.8 430.0 167.1 438.0 170.0 439.3 180.0 439.7 214.0 436.5 236.0 428.8 246.0 426.7 260.0 425.8 276.0 423.4 298.0 417.5 314.0 413.9 322.0 410.9 326.0 408.3 328.3 406.0 331.2 402.0 333.1 398.0 334.3 394.0 334.8 388.0 333.7 378.0 332.2 374.0 329.8 370.0 322.2 362.0 304.6 350.0 302.6 348.0 302.0 346.6 302.3 334.0 301.2 326.0 301.2 318.0 300.1 312.0 302.1 300.0 301.2 296.0 300.0 293.7 298.0 291.8 294.0 290.0 288.0 289.3 216.0 289.2 200.0 288.4 183.4 286.0 166.0 280.8 153.6 278.0 147.0 276.0 140.0 272.1 136.0 269.1 121.5 262.0 82.0 234.7 78.0 231.4 70.0 226.7 70.0 50.0 258.8 50.0 262.0 54.1 270.0 60.2 280.0 70.1 295.2 82.0 302.0 85.5 319.0 96.0 326.0 99.6 343.0 110.0 364.0 121.5 394.0 140.0 398.6 142.0 404.0 143.2 412.5 146.0 416.0 146.5 419.9 146.0 422.8 144.0 440.5 126.0 442.0 123.1 441.9 120.0 435.7 110.0 437.1 108.0 446.0 105.6 452.0 102.4 454.0 100.0 454.8 98.0 454.9 94.0 453.1 90.0 451.6 88.0 449.5 86.0 444.0 82.5 408.0 64.8 402.0 61.0 388.6 54.0 385.8 52.0 384.1 50.0 730.0 50.0 730.0 552.0Z"/>
<path fill-rule="evenodd" fill="rgb(255,157,0)" d="M730.0 552.0 70.0 552.0 70.0 330.4 72.0 331.8 81.7 342.0 86.0 347.8 93.9 356.0 98.0 361.6 106.0 370.0 142.0 411.6 161.3 432.0 165.9 438.0 170.0 439.9 180.0 440.1 214.0 437.2 220.0 435.4 230.0 431.2 238.0 428.9 246.0 427.2 260.0 426.3 276.0 424.1 316.3 414.0 321.7 412.0 325.2 410.0 328.0 407.7 331.1 404.0 333.5 400.0 335.0 396.0 336.0 388.0 334.8 378.0 333.2 374.0 330.0 368.9 322.0 360.9 306.1 350.0 304.2 348.0 303.4 346.0 303.7 334.0 302.6 326.0 302.3 314.0 303.5 298.0 301.5 290.0 298.0 284.6 296.0 283.2 290.0 282.3 182.0 282.1 167.9 280.0 149.8 276.0 144.8 274.0 136.0 268.5 122.0 261.5 82.1 234.0 76.0 229.2 72.0 226.7 70.0 226.1 70.0 50.0 257.5 50.0 258.7 52.0 262.0 55.5 270.0 61.6 280.6 72.0 294.0 82.5 316.7 96.0 326.0 100.9 340.7 110.0 364.0 122.9 392.0 140.4 400.0 143.7 414.0 147.7 418.0 148.2 422.0 147.2 426.9 144.0 434.0 136.5 442.0 126.5 443.8 122.0 443.6 120.0 440.4 112.0 440.8 110.0 450.0 104.9 453.7 102.0 455.8 98.0 456.0 96.0 455.2 92.0 452.7 88.0 450.7 86.0 444.0 81.7 408.0 64.2 400.0 59.2 389.7 54.0 386.8 52.0 385.0 50.0 730.0 50.0 730.0 552.0Z"/>
<path fill-rule="evenodd" fill="rgb(255,145,0)" d="M730.0 552.0 70.0 552.0 70.0 330.9 72.0 332.3 81.3 342.0 85.7 348.0 93.4 356.0 97.8 362.0 105.5 370.0 142.0 412.6 160.1 432.0 164.9 438.0 168.1 440.0 172.0 440.6 180.0 440.6 214.0 438.0 232.0 431.2 244.0 428.1 252.0 427.1 262.0 426.7 276.0 424.8 318.0 414.3 322.0 412.8 326.7 410.0 332.4 404.0 334.7 400.0 336.2 396.0 337.3 388.0 336.8 382.0 335.2 376.0 333.2 372.0 330.4 368.0 324.0 361.5 309.9 352.0 305.9 348.0 305.1 346.0 305.1 334.0 304.1 324.0 304.2 314.0 305.2 300.0 304.9 292.0 304.0 288.1 302.0 283.4 300.0 280.1 296.0 275.8 294.0 275.0 292.0 275.0 284.0 275.4 164.0 275.4 148.6 274.0 143.3 272.0 122.0 260.6 83.5 234.0 78.0 229.7 74.0 227.0 70.0 225.2 70.0 50.0 256.4 50.0 257.4 52.0 261.2 56.0 268.0 61.1 280.0 72.7 294.0 83.7 316.0 96.8 325.8 102.0 340.0 110.8 363.8 124.0 380.0 134.6 392.0 141.7 398.0 144.4 414.0 148.9 418.0 149.4 425.3 148.0 429.1 146.0 432.0 143.0 438.0 134.9 444.8 124.0 445.2 120.0 443.4 114.0 443.3 112.0 444.3 110.0 446.7 108.0 452.0 105.0 455.1 102.0 456.9 98.0 456.9 94.0 453.9 88.0 450.0 84.5 444.0 80.9 409.1 64.0 402.0 59.5 391.1 54.0 387.8 52.0 385.9 50.0 730.0 50.0 730.0 552.0Z"/>
<path fill-rule="evenodd" fill="rgb(255,133,0)" d="M730.0 552.0 70.0 552.0 70.0 331.4 80.8 342.0 85.2 348.0 92.9 356.0 97.3 362.0 105.0 370.0 140.0 411.3 163.8 438.0 168.0 440.5 180.0 441.0 214.0 438.7 230.0 432.5 244.0 428.6 252.0 427.5 262.0 427.3 276.0 425.4 318.0 415.1 326.0 411.6 332.2 406.0 335.0 402.0 336.8 398.0 338.0 394.0 338.6 388.0 338.3 384.0 337.0 378.0 335.4 374.0 332.0 368.6 324.0 360.5 311.3 352.0 309.1 350.0 306.8 346.0 305.9 320.0 306.9 292.0 306.0 287.6 303.6 282.0 300.0 276.9 296.0 272.7 292.0 270.9 288.0 270.6 152.0 270.5 144.0 270.1 130.4 264.0 122.9 260.0 82.5 232.0 78.0 228.4 72.0 224.6 70.0 224.1 70.0 50.0 255.3 50.0 256.3 52.0 260.0 56.1 268.0 62.3 280.0 73.9 294.0 84.9 340.0 112.1 361.5 124.0 378.0 134.7 392.0 143.0 398.0 145.6 412.0 149.6 418.0 150.7 428.0 149.1 430.4 148.0 434.1 144.0 440.0 135.3 446.2 124.0 446.7 120.0 445.4 114.0 445.6 112.0 446.7 110.0 454.0 105.1 456.0 102.8 458.1 98.0 458.0 94.0 455.2 88.0 453.6 86.0 450.0 83.3 410.7 64.0 402.0 58.6 389.2 52.0 387.2 50.0 730.0 50.0 730.0 552.0Z"/>
<path fill-rule="evenodd" fill="rgb(255,122,0)" d="M730.0 552.0 70.0 552.0 70.0 331.9 80.3 342.0 84.8 348.0 92.4 356.0 96.8 362.0 104.5 370.0 140.0 412.2 162.7 438.0 165.4 440.0 168.0 440.9 180.0 441.4 214.0 439.4 230.0 433.1 244.0 429.2 252.0 428.0 262.0 428.0 276.0 426.1 320.0 415.4 328.0 411.4 331.9 408.0 335.1 404.0 338.9 396.0 339.9 388.0 339.6 384.0 338.2 378.0 336.5 374.0 332.7 368.0 326.0 361.0 315.2 354.0 310.6 350.0 309.3 348.0 308.4 344.0 308.0 322.0 308.8 294.0 308.4 290.0 306.4 284.0 302.9 278.0 298.0 272.0 290.0 264.6 284.0 263.8 138.0 263.5 131.8 262.0 123.9 258.0 120.0 254.9 106.3 246.0 100.0 240.9 86.3 232.0 80.0 226.9 74.0 223.0 70.0 221.7 70.0 50.0 254.2 50.0 254.9 52.0 258.4 56.0 268.0 63.7 278.5 74.0 284.1 78.0 292.0 84.9 304.0 92.6 324.2 104.0 338.0 112.6 362.2 126.0 378.0 136.5 392.0 144.7 398.0 147.1 402.8 148.0 412.0 151.1 418.0 152.1 426.0 151.3 430.0 150.3 433.1 148.0 436.2 144.0 441.7 136.0 447.8 124.0 448.3 120.0 447.3 114.0 447.6 112.0 448.9 110.0 454.0 106.9 456.8 104.0 459.6 98.0 459.3 94.0 456.0 86.9 452.0 82.8 413.0 64.0 402.0 57.4 391.2 52.0 388.7 50.0 730.0 50.0 730.0 552.0Z"/>
<path fill-rule="evenodd" fill="rgb(255,110,0)" d="M730.0 552.0 70.0 552.0 70.0 332.4 80.0 342.2 84.3 348.0 92.0 356.0 98.0 363.8 104.0 370.0 140.0 413.1 161.6 438.0 164.1 440.0 168.0 441.4 180.0 441.9 214.0 440.2 218.0 439.0 230.0 433.7 244.0 429.7 252.0 428.5 262.0 428.5 276.0 426.8 320.0 416.2 324.0 414.7 328.9 412.0 335.1 406.0 339.6 398.0 341.3 390.0 341.0 384.0 340.1 380.0 338.7 376.0 335.3 370.0 328.0 361.6 324.0 358.4 314.2 352.0 311.1 348.0 310.2 342.0 310.6 330.0 310.1 316.0 310.6 296.0 310.1 290.0 307.3 282.0 301.2 272.0 297.7 268.0 297.5 266.0 299.0 262.0 298.8 258.0 298.0 255.8 294.0 249.6 282.0 235.5 270.0 223.0 101.1 54.0 97.7 50.0 252.6 50.0 254.6 54.0 258.0 57.6 266.3 64.0 278.0 75.4 284.0 79.7 290.0 85.3 296.7 90.0 312.0 102.7 321.9 108.0 326.0 111.1 331.8 114.0 336.0 117.1 345.8 122.0 350.0 125.1 359.8 130.0 376.0 141.0 382.0 144.0 386.0 147.0 390.0 149.0 400.0 150.4 416.0 154.7 428.0 153.0 432.0 151.5 435.4 148.0 441.5 140.0 444.0 136.0 449.6 124.0 450.2 120.0 449.3 114.0 449.8 112.0 451.9 110.0 456.0 107.6 458.0 105.1 461.3 98.0 460.9 94.0 456.0 83.5 454.0 81.1 450.0 78.8 437.8 74.0 413.6 62.0 402.0 54.9 392.2 50.0 730.0 50.0 730.0 552.0ZM422.5 202.0 424.2 200.0 424.6 196.0 424.0 194.0 422.0 191.5 420.0 190.1 416.0 188.8 412.0 188.8 408.9 190.0 407.7 192.0 407.6 194.0 409.4 198.0 411.0 200.0 413.4 202.0 418.0 203.5 420.0 203.2 422.5 202.0ZM397.5 210.0 398.6 208.0 398.9 206.0 398.1 202.0 396.0 199.5 394.0 199.3 392.0 200.4 390.0 203.7 389.9 208.0 391.2 210.0 394.0 211.3 396.0 211.0 397.5 210.0Z"/>
<path fill-rule="evenodd" fill="rgb(255,98,0)" d="M730.0 552.0 70.0 552.0 70.0 333.0 79.3 342.0 84.0 348.2 92.0 356.7 96.0 362.2 104.0 370.6 160.4 438.0 162.8 440.0 168.0 441.9 180.0 442.4 214.0 441.0 218.0 439.7 230.0 434.4 244.0 430.3 252.0 429.0 262.0 429.1 276.0 427.4 320.0 417.1 328.0 413.7 334.0 409.1 339.3 402.0 341.1 398.0 342.3 394.0 342.7 388.0 342.0 382.0 340.0 376.0 337.8 372.0 334.0 366.7 329.7 362.0 326.0 358.7 315.8 352.0 313.0 348.0 312.3 342.0 313.1 330.0 312.4 318.0 312.2 292.0 311.0 286.0 306.2 276.0 305.9 274.0 307.7 270.0 307.6 268.0 306.4 266.0 304.0 263.8 303.1 262.0 302.7 252.0 301.3 248.0 272.7 210.0 268.0 204.8 264.6 200.0 260.0 194.8 256.6 190.0 252.0 184.8 248.6 180.0 244.0 174.8 240.6 170.0 236.0 164.8 232.6 160.0 228.0 154.8 224.6 150.0 220.0 144.8 216.6 140.0 212.0 134.8 208.6 130.0 204.0 124.8 200.6 120.0 148.0 54.8 145.6 50.0 231.2 50.0 232.0 52.7 234.0 56.3 302.5 170.0 308.0 181.8 318.0 198.0 322.0 203.0 338.7 220.0 344.7 230.0 348.0 231.9 350.0 231.8 352.0 230.6 353.3 228.0 352.4 224.0 348.4 218.0 347.5 214.0 347.3 198.0 348.2 194.0 350.0 193.7 352.0 194.7 354.0 195.8 358.0 199.3 362.0 204.0 370.3 218.0 372.0 219.6 374.0 220.3 376.0 220.0 380.0 217.2 382.0 216.5 392.0 217.4 398.0 216.6 402.0 215.1 410.0 210.9 422.0 207.3 427.2 204.0 436.0 195.0 444.8 190.0 448.0 186.0 449.2 182.0 448.9 180.0 442.5 170.0 439.6 162.0 436.1 156.0 435.7 154.0 436.1 152.0 438.1 148.0 445.8 138.0 451.7 124.0 452.7 120.0 452.5 114.0 454.0 112.2 457.2 110.0 458.7 108.0 463.0 100.0 463.5 96.0 460.0 88.0 458.5 80.0 456.0 74.1 452.8 70.0 436.9 54.0 434.0 50.0 730.0 50.0 730.0 552.0ZM330.4 238.0 330.9 236.0 330.4 234.0 330.0 233.1 328.0 232.3 326.8 236.0 327.3 238.0 328.0 238.7 330.4 238.0Z"/>
<path fill-rule="evenodd" fill="rgb(255,86,0)" d="M730.0 552.0 70.0 552.0 70.0 333.5 78.8 342.0 84.0 348.9 92.0 357.3 96.0 362.9 104.0 371.2 159.2 438.0 161.4 440.0 166.0 442.0 170.0 442.6 180.0 442.9 214.0 441.7 218.0 440.5 230.0 435.0 244.0 430.9 252.0 429.6 262.0 429.7 278.0 427.7 306.0 420.8 314.0 419.5 325.7 416.0 330.0 413.8 334.0 410.7 338.2 406.0 340.8 402.0 342.7 398.0 343.7 394.0 344.0 386.0 343.3 382.0 341.3 376.0 336.2 368.0 328.0 359.1 317.6 352.0 315.0 348.0 314.5 342.0 315.6 328.0 314.9 318.0 314.9 298.0 313.6 286.0 311.7 278.0 311.8 276.0 314.0 270.0 316.0 260.0 317.3 258.0 319.7 256.0 328.0 251.1 338.0 244.1 356.0 237.0 370.0 227.9 382.0 223.9 392.0 222.7 408.0 219.3 440.0 201.1 446.0 198.6 456.0 196.8 458.1 196.0 460.2 194.0 461.9 190.0 464.3 176.0 464.2 170.0 462.0 167.4 454.0 164.5 450.0 162.0 443.2 156.0 441.5 154.0 440.7 152.0 441.0 150.0 442.0 148.3 446.4 144.0 449.0 140.0 453.1 130.0 455.0 124.0 461.1 114.0 463.1 106.0 467.0 100.0 466.8 96.0 463.6 90.0 462.6 86.0 467.2 76.0 468.2 72.0 468.5 50.0 730.0 50.0 730.0 552.0Z"/>
<path fill-rule="evenodd" fill="rgb(255,74,0)" d="M730.0 552.0 70.0 552.0 70.0 334.1 78.2 342.0 84.0 349.6 92.0 358.0 96.0 363.5 104.0 371.8 129.1 402.0 158.0 438.0 160.0 440.0 164.1 442.0 168.0 442.9 178.0 443.4 214.0 442.5 218.0 441.2 230.0 435.7 242.0 431.9 252.0 430.1 262.0 430.3 276.0 428.8 306.0 421.6 314.0 420.4 326.0 416.9 331.7 414.0 334.0 412.3 341.1 404.0 343.4 400.0 344.7 396.0 345.5 388.0 344.1 380.0 340.4 372.0 332.0 361.5 328.0 357.8 319.6 352.0 317.9 350.0 317.1 348.0 316.7 342.0 317.9 326.0 318.1 308.0 317.6 288.0 318.3 282.0 320.2 276.0 325.2 268.0 332.0 261.7 342.9 254.0 358.0 245.1 374.0 234.7 384.0 230.6 410.0 223.4 430.0 210.7 444.0 204.9 460.0 200.6 463.8 198.0 465.6 196.0 467.6 192.0 469.0 186.0 469.7 174.0 468.7 168.0 466.0 163.5 462.0 159.8 456.0 155.6 449.2 152.0 449.6 150.0 452.9 146.0 462.0 130.3 476.0 116.0 480.8 110.0 483.2 106.0 485.0 102.0 488.7 90.0 492.0 73.5 498.7 54.0 499.5 50.0 730.0 50.0 730.0 552.0Z"/>
<path fill-rule="evenodd" fill="rgb(255,63,0)" d="M730.0 552.0 70.0 552.0 70.0 334.9 78.0 342.5 83.7 350.0 91.3 358.0 95.8 364.0 102.0 370.4 111.9 382.0 156.7 438.0 158.5 440.0 162.0 442.0 168.0 443.4 178.0 443.9 214.0 443.3 218.0 442.0 230.0 436.4 244.0 432.1 252.0 430.7 262.0 430.9 278.0 429.1 307.5 422.0 314.0 421.2 324.0 418.7 328.0 417.1 332.0 415.0 335.9 412.0 342.7 404.0 344.8 400.0 346.1 396.0 346.9 388.0 345.4 380.0 341.7 372.0 332.0 360.0 328.0 356.4 321.9 352.0 320.2 350.0 319.4 348.0 319.0 340.0 321.7 308.0 321.2 294.0 322.0 288.8 324.0 283.3 327.0 278.0 330.0 274.7 343.7 266.0 360.7 254.0 370.0 245.5 374.9 242.0 384.0 237.5 410.0 228.0 414.0 225.8 428.0 215.8 432.0 213.7 461.8 204.0 466.1 202.0 470.9 198.0 472.7 196.0 475.0 192.0 475.7 188.0 475.6 184.0 474.1 174.0 472.2 166.0 470.6 162.0 464.9 152.0 463.4 148.0 463.6 144.0 466.1 140.0 470.0 136.9 476.0 134.2 482.0 133.2 488.0 133.3 496.0 135.0 502.0 137.5 516.0 147.0 520.0 147.9 524.0 147.1 528.4 144.0 538.6 130.0 556.7 112.0 562.0 109.4 582.0 105.3 590.0 102.5 594.0 100.2 600.0 95.5 612.0 87.5 620.0 83.1 628.0 75.6 634.0 71.2 648.7 56.0 650.2 54.0 651.8 50.0 730.0 50.0 730.0 552.0ZM590.7 174.0 591.7 172.0 591.4 170.0 590.0 168.5 587.5 168.0 586.0 168.5 584.6 170.0 584.1 172.0 585.0 174.0 586.0 174.9 588.0 175.3 590.7 174.0ZM639.1 206.0 642.0 204.4 643.6 202.0 644.0 200.0 643.6 198.0 642.3 196.0 640.0 194.5 636.0 194.2 634.0 195.1 632.0 197.3 631.3 200.0 631.7 202.0 634.0 205.0 636.0 206.0 639.1 206.0Z"/>
<path fill-rule="evenodd" fill="rgb(255,51,0)" d="M730.0 552.0 70.0 552.0 70.0 335.7 78.0 343.4 82.9 350.0 90.5 358.0 94.9 364.0 104.0 373.6 134.0 410.1 156.0 438.7 160.0 442.1 166.0 443.6 178.0 444.6 214.0 444.1 218.0 442.9 230.0 437.1 244.0 432.8 252.0 431.3 262.0 431.6 276.0 430.1 286.0 428.2 308.0 422.7 316.0 421.6 328.0 418.1 332.5 416.0 336.0 413.4 341.2 408.0 345.4 402.0 346.9 398.0 348.1 392.0 347.6 384.0 346.0 378.0 344.2 374.0 341.6 370.0 334.0 360.7 322.8 350.0 321.4 346.0 321.1 340.0 321.9 330.0 326.5 298.0 328.0 292.7 330.0 289.1 336.0 283.0 348.4 276.0 368.9 262.0 378.7 252.0 383.4 248.0 395.8 240.0 412.0 230.9 422.0 223.0 428.0 219.0 436.0 215.5 470.0 204.2 480.0 199.4 482.6 196.0 484.2 192.0 484.4 188.0 483.3 178.0 484.2 170.0 486.0 166.0 490.0 162.3 496.0 160.6 506.0 160.7 514.0 162.4 526.0 166.8 530.0 167.1 535.9 166.0 544.0 163.0 548.0 162.2 552.0 162.3 556.0 163.5 560.0 165.9 564.0 169.4 568.0 173.9 575.2 184.0 578.0 186.5 581.5 188.0 584.0 188.5 600.0 188.6 606.0 191.0 610.0 195.1 626.0 219.8 630.0 222.3 634.0 222.9 640.0 222.3 644.0 221.0 648.0 218.9 652.0 215.4 654.7 212.0 657.9 206.0 665.2 186.0 668.3 182.0 674.0 178.2 678.0 176.7 684.0 175.4 702.0 174.0 710.0 174.7 722.0 177.5 730.0 177.8 730.0 552.0Z"/>
<path fill-rule="evenodd" fill="rgb(255,39,0)" d="M730.0 552.0 70.0 552.0 70.0 336.8 77.6 344.0 82.0 350.0 90.0 358.5 94.0 364.0 102.0 372.4 110.1 382.0 122.7 398.0 128.0 403.9 155.6 440.0 157.7 442.0 164.0 443.9 178.0 445.3 214.0 445.0 218.0 443.7 230.0 437.9 244.0 433.5 252.0 431.9 262.0 432.2 276.0 430.9 288.0 428.6 306.0 423.9 314.0 422.9 324.0 420.6 332.0 417.4 338.0 413.1 342.8 408.0 346.8 402.0 349.2 394.0 349.5 388.0 347.3 378.0 344.3 372.0 334.0 359.2 326.9 352.0 325.4 350.0 323.8 346.0 323.4 340.0 326.3 318.0 329.1 306.0 332.0 300.3 338.0 293.8 344.0 289.2 375.9 270.0 384.4 264.0 392.0 256.1 399.7 244.0 416.0 231.2 424.0 224.0 434.0 218.8 478.0 204.1 481.9 202.0 485.4 198.0 487.8 194.0 493.9 176.0 497.0 172.0 500.0 169.8 506.0 167.9 512.0 168.3 526.0 172.6 544.0 175.8 552.0 178.9 572.0 192.2 578.0 194.9 588.0 198.2 594.0 201.4 599.0 206.0 608.5 220.0 614.0 226.3 620.0 230.4 624.0 232.0 628.0 232.8 634.0 232.8 640.0 231.5 646.0 229.1 652.0 225.7 658.5 220.0 674.0 200.3 680.0 195.4 686.0 192.3 694.0 190.1 702.0 189.5 730.0 192.1 730.0 552.0Z"/>
<path fill-rule="evenodd" fill="rgb(255,27,0)" d="M730.0 552.0 70.0 552.0 70.0 338.3 76.1 344.0 80.4 350.0 88.1 358.0 92.4 364.0 100.1 372.0 110.0 383.8 112.9 388.0 126.0 403.5 156.0 442.2 158.0 443.4 162.0 444.3 178.0 445.9 208.0 446.3 214.0 445.9 218.0 444.7 232.0 438.0 245.4 434.0 254.0 432.6 262.0 433.0 274.0 432.0 288.0 429.4 308.0 424.4 314.0 423.8 326.0 421.0 334.0 417.6 338.0 414.6 344.4 408.0 348.3 402.0 350.6 394.0 350.8 388.0 349.3 380.0 345.6 372.0 337.8 362.0 329.0 352.0 327.7 350.0 326.1 346.0 325.5 340.0 327.0 328.0 330.0 314.5 332.4 308.0 334.0 305.7 338.0 302.8 350.0 295.2 362.0 288.7 376.0 282.1 400.0 274.2 404.4 272.0 408.1 268.0 409.2 264.0 408.9 260.0 404.6 250.0 404.4 248.0 406.0 245.2 412.0 239.3 422.0 228.0 426.0 225.0 432.0 222.3 462.4 212.0 480.0 206.9 482.0 205.9 486.7 202.0 491.6 196.0 497.0 188.0 501.5 178.0 503.3 176.0 506.0 174.3 508.0 173.8 512.0 174.2 533.4 182.0 545.3 188.0 564.0 199.7 570.0 202.0 580.1 204.0 586.0 206.7 589.1 210.0 591.2 216.0 591.5 236.0 593.3 244.0 595.7 248.0 598.0 250.1 602.0 252.4 608.0 253.9 616.0 254.0 624.0 252.5 632.0 249.5 640.0 245.1 661.3 230.0 676.0 213.1 684.0 206.3 690.0 203.2 696.0 201.6 702.0 201.8 722.0 208.5 730.0 209.6 730.0 552.0ZM564.8 278.0 567.7 276.0 570.7 272.0 571.6 268.0 570.7 264.0 568.0 260.9 564.0 259.0 558.0 258.9 554.0 260.5 552.0 262.0 549.2 266.0 548.6 270.0 549.8 274.0 552.0 276.7 556.0 279.0 560.0 279.4 564.8 278.0Z"/>
<path fill-rule="evenodd" fill="rgb(251,15,0)" d="M542.0 218.2 540.0 218.1 538.0 216.3 538.4 214.0 540.0 213.3 542.5 214.0 543.6 216.0 542.0 218.2ZM730.0 552.0 70.0 552.0 70.0 343.3 74.3 346.0 107.0 386.0 118.0 400.4 146.0 432.2 153.9 442.0 156.0 443.8 160.0 445.0 178.0 446.8 208.0 447.5 214.0 447.0 220.0 444.9 230.0 439.8 241.2 436.0 249.6 434.0 254.0 433.5 264.0 433.7 276.0 432.7 288.0 430.4 308.0 425.4 314.0 424.8 324.0 422.7 330.0 420.6 336.0 417.7 344.4 410.0 348.9 404.0 350.7 400.0 352.0 394.0 352.2 388.0 350.7 380.0 347.1 372.0 344.3 368.0 331.0 352.0 328.1 346.0 327.5 340.0 329.0 330.0 332.0 318.5 333.7 314.0 336.0 310.4 338.0 308.6 346.0 303.5 354.0 299.2 364.0 294.8 382.0 289.4 390.0 288.6 398.0 288.6 408.0 290.1 425.2 294.0 432.0 294.6 436.0 294.3 440.0 293.2 444.0 290.4 446.0 286.7 446.7 282.0 446.5 274.0 444.9 268.0 442.5 264.0 439.2 260.0 432.1 254.0 422.4 248.0 420.0 245.3 418.6 242.0 418.9 238.0 421.6 232.0 424.0 228.9 428.0 226.6 448.0 221.2 454.0 220.6 460.0 221.6 468.0 221.2 472.0 221.8 477.0 224.0 481.3 228.0 483.4 232.0 484.4 236.0 484.6 240.0 483.9 246.0 479.6 260.0 472.7 272.0 471.0 276.0 468.5 288.0 468.3 294.0 469.3 298.0 471.3 302.0 474.3 306.0 478.0 309.5 484.0 313.1 488.0 314.1 492.0 314.5 504.0 312.9 532.0 306.9 544.0 303.4 576.0 291.7 584.0 289.4 596.0 286.9 609.2 282.0 617.1 278.0 626.0 272.5 634.0 265.9 646.1 254.0 656.0 245.5 670.0 235.4 680.0 230.3 684.0 229.1 688.0 228.7 700.0 231.4 702.0 231.0 708.0 227.6 712.0 226.4 730.0 226.2 730.0 552.0ZM556.0 234.0 554.0 234.1 552.0 233.0 549.8 230.0 549.2 226.0 550.0 223.9 552.0 222.9 556.0 223.3 558.8 226.0 559.4 228.0 558.7 232.0 556.0 234.0Z"/>
<path fill-rule="evenodd" fill="rgb(236,4,0)" d="M460.0 252.2 454.0 253.0 448.0 252.1 436.0 248.7 428.0 245.3 426.0 243.7 423.7 240.0 423.4 236.0 424.8 232.0 426.0 230.6 428.0 229.7 436.0 229.4 450.0 226.0 454.0 226.3 464.0 228.7 466.1 230.0 467.6 232.0 468.7 236.0 468.4 240.0 467.2 244.0 465.1 248.0 462.0 251.3 460.0 252.2ZM730.0 552.0 70.0 552.0 70.0 346.5 72.7 348.0 81.0 358.0 100.0 382.3 105.0 388.0 108.0 392.3 113.0 398.0 116.0 402.3 132.0 420.6 154.0 444.1 158.0 445.8 178.0 447.6 208.0 448.9 214.0 448.3 218.0 447.2 232.9 440.0 246.2 436.0 254.0 434.7 262.0 434.9 276.0 433.7 288.0 431.6 308.0 426.5 316.0 425.6 326.0 423.4 336.0 419.3 344.6 412.0 349.5 406.0 352.5 400.0 353.9 390.0 353.0 382.0 351.0 376.0 347.6 370.0 331.7 350.0 330.0 345.7 329.5 340.0 332.0 326.9 335.4 318.0 337.8 314.0 340.0 311.7 346.0 307.5 358.0 301.3 372.0 297.2 388.0 295.4 396.0 295.9 408.0 298.4 424.0 300.8 431.9 304.0 442.5 310.0 467.1 328.0 478.0 337.2 480.0 338.6 484.0 339.0 492.0 337.1 500.0 334.0 529.5 318.0 546.0 311.0 584.0 296.8 612.0 287.7 628.0 283.6 634.0 278.7 647.2 262.0 650.0 259.1 658.0 253.5 670.0 247.5 678.0 244.5 686.0 242.5 702.0 240.8 718.0 238.2 730.0 237.5 730.0 552.0Z"/>
<path fill-rule="evenodd" fill="rgb(222,0,0)" d="M450.0 240.5 444.0 241.1 434.0 240.0 432.5 238.0 438.0 236.9 441.5 234.0 446.0 231.9 454.1 232.0 458.7 234.0 458.3 236.0 456.0 238.0 450.0 240.5ZM730.0 552.0 70.0 552.0 70.0 348.5 72.0 349.8 78.9 358.0 115.2 404.0 130.0 421.2 152.0 444.8 154.0 446.0 158.0 447.1 200.0 450.0 208.0 451.1 212.0 450.9 218.0 449.5 233.5 442.0 246.3 438.0 254.0 436.5 262.0 436.4 276.0 435.2 288.0 433.1 308.0 428.0 316.0 427.2 326.0 425.1 332.0 423.0 338.0 420.1 347.6 412.0 352.3 406.0 355.0 400.0 356.1 390.0 355.0 380.0 352.6 374.0 349.0 368.0 338.0 355.0 334.0 349.3 332.0 344.0 331.8 340.0 334.0 329.5 336.0 324.7 340.0 317.7 346.5 312.0 357.7 306.0 370.0 303.0 384.0 302.4 394.0 303.3 400.6 306.0 406.0 309.1 408.0 309.3 416.0 306.4 420.0 306.0 422.0 306.6 424.4 308.0 425.9 310.0 426.6 312.0 426.6 316.0 425.0 326.0 425.7 330.0 428.0 333.6 430.8 336.0 436.0 338.8 446.0 342.3 454.0 345.7 458.0 349.0 459.5 354.0 459.2 368.0 459.8 372.0 461.4 376.0 464.7 380.0 470.0 383.9 473.9 386.0 482.0 389.1 492.0 392.0 506.0 394.2 520.0 394.5 524.0 394.2 528.0 392.3 530.0 390.0 530.8 388.0 530.8 384.0 527.1 374.0 524.6 370.0 519.7 364.0 517.5 360.0 516.6 356.0 516.8 352.0 518.2 348.0 523.2 340.0 529.7 332.0 536.0 326.0 542.3 322.0 550.8 318.0 590.9 302.0 607.3 296.0 616.0 293.9 622.0 293.5 634.0 293.8 640.0 293.2 643.6 292.0 645.5 290.0 646.2 288.0 646.3 282.0 647.4 278.0 650.9 272.0 653.5 266.0 656.0 263.6 666.0 258.8 678.0 255.4 698.0 250.9 730.0 247.3 730.0 552.0Z"/>
<path fill-rule="evenodd" fill="rgb(207,0,0)" d="M730.0 552.0 70.0 552.0 70.0 350.7 78.0 359.6 81.0 364.0 94.0 379.6 113.0 404.0 138.6 434.0 150.0 446.2 152.0 447.5 156.0 448.5 170.0 448.9 192.0 451.1 196.4 452.0 208.0 456.9 212.0 457.6 216.0 457.4 224.0 455.1 246.0 444.9 256.0 441.2 288.0 435.1 308.0 430.3 318.0 429.1 330.0 426.5 338.0 423.2 342.0 420.9 352.8 412.0 357.5 406.0 360.8 398.0 362.0 388.0 361.2 380.0 359.0 374.0 355.3 368.0 342.0 353.8 338.0 348.6 335.9 344.0 335.4 340.0 337.1 332.0 340.0 326.3 346.0 320.2 352.0 316.7 360.0 314.4 364.0 314.0 370.0 314.4 378.0 316.8 386.0 321.9 390.2 326.0 402.0 340.3 417.1 354.0 422.8 360.0 427.0 366.0 436.6 384.0 440.3 388.0 446.0 391.7 453.2 394.0 468.0 397.1 502.0 402.3 524.0 404.6 536.0 404.3 540.0 402.9 543.7 400.0 546.6 396.0 548.3 392.0 548.9 388.0 548.8 384.0 543.8 362.0 543.6 352.0 544.9 346.0 547.6 340.0 552.0 334.0 556.3 330.0 564.0 325.1 574.0 321.7 582.0 315.8 588.0 312.6 602.0 306.8 614.0 303.3 620.0 302.4 628.0 302.2 638.0 303.6 658.0 308.1 664.0 308.2 668.0 307.2 670.0 306.0 671.7 304.0 672.3 302.0 671.7 298.0 669.1 292.0 668.0 288.0 668.0 282.0 670.3 276.0 675.5 270.0 687.6 262.0 694.0 258.8 700.0 256.7 718.0 254.3 730.0 253.8 730.0 552.0ZM642.0 416.0 645.6 414.0 647.0 412.0 647.5 410.0 647.3 408.0 646.0 405.3 644.0 403.7 642.0 403.2 640.0 403.4 638.0 404.5 636.0 406.7 635.1 410.0 636.0 413.0 638.0 415.1 640.0 416.0 642.0 416.0Z"/>
<path fill-rule="evenodd" fill="rgb(193,0,0)" d="M730.0 552.0 70.0 552.0 70.0 355.1 76.0 361.6 78.9 366.0 84.0 371.6 86.9 376.0 92.0 381.6 94.9 386.0 100.0 391.6 110.9 406.0 116.0 411.5 146.0 448.6 150.0 450.9 170.0 451.0 188.0 453.0 192.3 454.0 195.6 456.0 198.8 460.0 200.6 464.0 202.0 471.1 204.0 474.1 208.0 476.0 212.0 475.9 216.0 474.7 224.0 470.6 252.1 452.0 266.7 444.0 278.0 439.9 308.0 433.7 322.0 432.1 334.0 429.1 342.0 425.7 348.8 422.0 354.5 418.0 361.2 412.0 367.6 404.0 371.0 398.0 373.0 390.0 372.8 382.0 370.5 372.0 366.8 366.0 348.0 352.3 343.4 348.0 340.6 344.0 339.9 342.0 339.7 338.0 341.6 332.0 344.4 328.0 350.0 324.3 356.0 322.6 362.0 322.0 368.0 323.8 372.0 326.6 376.7 332.0 382.0 340.5 386.1 346.0 390.7 350.0 400.0 356.2 403.8 360.0 407.7 366.0 415.2 382.0 419.4 388.0 425.9 394.0 432.0 397.4 438.0 399.5 446.0 401.1 470.0 404.1 486.0 405.5 508.0 408.7 528.0 410.6 540.0 409.9 547.6 408.0 554.9 404.0 560.9 398.0 564.1 392.0 565.5 386.0 565.2 378.0 563.1 370.0 558.5 358.0 557.6 354.0 557.6 350.0 558.5 346.0 560.5 342.0 563.5 338.0 568.0 333.7 584.0 323.5 590.0 320.4 606.0 314.0 620.0 310.4 628.0 310.0 638.0 310.9 656.0 316.5 662.0 317.9 668.0 317.9 672.0 316.9 676.4 314.0 678.0 312.0 679.6 308.0 679.5 302.0 675.6 292.0 675.4 288.0 676.0 286.0 678.6 282.0 688.0 273.0 695.6 264.0 700.0 261.4 708.0 259.5 722.0 258.6 730.0 259.2 730.0 552.0ZM669.2 450.0 672.0 448.4 674.0 445.9 675.1 442.0 674.5 438.0 672.0 434.5 670.0 433.1 663.5 430.0 662.0 428.5 661.0 426.0 661.0 424.0 662.2 418.0 664.3 412.0 670.0 400.1 674.0 394.8 676.0 393.0 680.0 391.5 684.0 392.8 690.0 396.0 694.0 397.5 700.0 398.1 704.0 397.2 708.0 394.4 709.6 392.0 710.5 388.0 710.2 386.0 708.3 382.0 706.4 380.0 704.0 378.3 700.0 376.7 696.0 376.2 692.0 376.6 682.0 380.2 678.0 380.6 674.0 379.0 663.2 372.0 658.9 370.0 654.0 368.7 648.0 369.1 642.9 372.0 641.0 374.0 638.6 378.0 634.5 392.0 629.5 406.0 628.9 410.0 629.3 414.0 632.0 420.0 636.0 424.7 642.0 428.9 652.0 434.2 654.0 436.6 657.3 444.0 660.2 448.0 664.0 450.5 666.0 450.8 669.2 450.0ZM713.6 422.0 714.0 419.5 713.5 418.0 712.0 416.7 710.0 416.2 708.0 416.9 707.0 418.0 706.5 420.0 708.0 422.9 710.0 423.9 712.0 423.5 713.6 422.0ZM663.5 470.0 663.7 468.0 662.0 465.9 660.0 465.8 658.0 467.9 658.3 470.0 660.0 471.2 662.0 471.2 663.5 470.0ZM206.6 504.0 208.7 502.0 209.3 498.0 208.0 495.3 206.0 494.2 204.0 494.4 202.0 496.0 201.1 498.0 200.9 500.0 201.5 502.0 204.0 504.3 206.6 504.0Z"/>
<path fill-rule="evenodd" fill="rgb(178,0,0)" d="M698.0 296.6 696.0 297.5 694.0 297.5 690.0 295.6 687.6 292.0 687.6 290.0 688.9 288.0 692.0 286.4 694.0 286.2 696.0 286.6 698.3 288.0 699.7 290.0 700.1 292.0 699.9 294.0 698.0 296.6ZM730.0 313.2 726.0 312.0 722.0 308.8 720.4 306.0 719.5 302.0 720.1 298.0 722.0 294.1 726.0 290.3 730.0 289.0 730.0 313.2ZM610.0 364.2 606.0 364.5 602.0 363.5 596.0 359.2 593.2 356.0 590.9 352.0 589.8 348.0 589.8 344.0 592.2 338.0 595.8 334.0 598.6 332.0 604.0 329.4 608.0 328.3 616.0 327.9 622.0 330.0 626.0 333.7 627.8 338.0 627.7 344.0 625.3 350.0 620.0 357.5 616.0 361.3 610.0 364.2ZM362.0 349.2 358.0 349.6 354.0 348.3 350.5 346.0 348.0 343.4 346.3 340.0 346.4 338.0 348.0 334.0 350.0 332.2 354.0 330.6 358.0 330.4 362.0 331.7 364.3 334.0 365.8 338.0 365.9 342.0 364.9 346.0 364.0 347.6 362.0 349.2ZM390.0 378.3 388.0 377.0 387.5 374.0 388.5 372.0 390.0 371.0 392.0 371.1 393.6 374.0 393.1 376.0 392.0 377.5 390.0 378.3ZM618.0 406.8 616.0 407.9 614.0 407.9 612.0 406.8 610.3 404.0 609.5 400.0 609.8 398.0 612.0 394.5 614.0 393.5 616.0 393.5 618.0 394.3 620.0 395.5 622.2 398.0 622.4 400.0 621.8 402.0 618.0 406.8ZM574.0 552.0 215.5 552.0 216.5 538.0 220.4 512.0 222.9 502.0 227.2 492.0 233.4 482.0 239.9 474.0 258.9 456.0 266.0 450.7 274.0 445.8 280.0 443.3 290.0 441.3 310.0 438.0 322.0 437.0 334.0 434.8 356.0 427.8 362.0 426.5 366.0 427.2 368.0 428.7 374.0 436.0 376.7 438.0 381.3 440.0 390.0 442.0 406.0 443.0 410.0 442.8 416.6 440.0 426.5 434.0 430.3 430.0 435.0 420.0 437.1 418.0 440.6 416.0 446.0 414.3 456.0 412.6 482.0 411.9 516.0 414.8 524.0 416.1 538.0 416.6 548.0 417.9 576.0 417.8 592.0 420.4 598.0 420.3 608.0 418.8 610.0 418.9 614.0 421.3 616.0 423.8 618.0 427.3 621.4 436.0 631.1 466.0 632.2 472.0 631.6 476.0 629.5 480.0 627.8 482.0 610.5 494.0 603.4 500.0 596.0 505.3 584.0 518.3 582.0 522.1 582.5 524.0 587.5 530.0 587.8 534.0 585.8 538.0 578.0 546.6 576.2 550.0 575.9 552.0 574.0 552.0ZM730.0 552.0 593.9 552.0 595.0 548.0 597.9 544.0 602.4 540.0 614.0 532.5 618.0 530.8 630.0 529.6 639.4 526.0 667.8 512.0 684.0 502.8 698.2 496.0 708.3 490.0 708.0 488.3 702.0 487.3 698.0 484.7 696.4 482.0 695.1 478.0 692.6 464.0 692.7 462.0 694.7 456.0 694.6 454.0 693.3 452.0 689.5 448.0 686.9 444.0 685.7 440.0 684.9 434.0 685.5 430.0 686.6 428.0 689.5 426.0 692.0 425.5 698.0 426.6 710.0 432.2 716.0 434.3 722.0 435.5 730.0 436.0 730.0 552.0ZM174.0 482.9 172.0 483.4 168.0 483.2 164.0 481.2 161.0 478.0 159.4 474.0 159.4 470.0 160.8 466.0 164.0 461.9 168.0 459.7 172.0 459.4 176.0 460.6 180.2 464.0 182.0 468.0 182.2 472.0 181.1 476.0 178.0 480.4 174.0 482.9ZM142.0 538.1 136.0 538.0 130.0 536.6 124.0 533.6 121.9 532.0 120.9 530.0 123.2 524.0 125.0 514.0 126.8 510.0 129.4 506.0 134.0 501.6 138.0 499.2 142.0 497.9 146.0 497.7 148.0 498.2 151.2 500.0 154.3 504.0 156.5 512.0 156.5 520.0 155.1 528.0 152.0 533.5 148.0 536.5 142.0 538.1Z"/>
<path fill-rule="evenodd" fill="rgb(164,0,0)" d="M566.0 552.0 225.6 552.0 226.1 524.0 227.5 512.0 229.9 502.0 234.8 490.0 239.6 482.0 244.0 476.5 260.2 460.0 270.0 452.5 280.0 447.3 294.0 444.8 348.0 441.7 354.0 442.2 360.0 443.3 376.0 448.7 384.0 450.6 394.0 451.6 408.0 451.9 416.0 450.6 423.6 448.0 444.0 438.0 450.0 435.7 458.0 434.3 466.0 435.2 468.0 433.7 468.6 432.0 471.5 428.0 476.0 424.4 482.0 421.5 488.0 420.0 496.0 419.3 512.0 419.2 548.0 423.4 572.0 424.1 578.0 425.0 584.9 428.0 590.4 432.0 595.9 438.0 599.4 444.0 601.7 450.0 605.5 466.0 605.7 470.0 604.0 474.2 597.1 482.0 592.0 489.7 589.0 496.0 585.6 506.0 583.6 510.0 576.5 518.0 575.3 520.0 574.1 524.0 573.8 532.0 573.1 536.0 567.8 548.0 567.0 552.0 566.0 552.0ZM702.0 443.1 700.0 443.3 697.8 442.0 697.2 440.0 698.0 437.9 700.0 437.3 702.1 438.0 703.4 440.0 703.1 442.0 702.0 443.1ZM730.0 552.0 623.2 552.0 618.0 545.7 616.9 542.0 618.0 539.4 620.0 538.2 622.0 538.3 625.0 540.0 628.0 543.9 630.0 545.6 632.0 545.7 634.0 545.1 638.0 542.0 642.9 536.0 646.0 533.4 648.3 532.0 656.0 529.6 660.0 527.5 676.0 515.4 694.0 505.5 702.0 499.8 722.0 491.3 730.0 489.6 730.0 552.0Z"/>
<path fill-rule="evenodd" fill="rgb(149,0,0)" d="M552.0 552.0 336.7 552.0 338.9 542.0 338.1 536.0 337.1 534.0 335.2 532.0 332.0 530.6 330.0 530.4 326.0 530.8 324.0 531.7 321.0 534.0 319.4 536.0 315.6 544.0 314.3 552.0 280.4 552.0 282.3 542.0 281.3 536.0 279.2 532.0 277.1 530.0 274.0 528.4 270.0 528.0 266.0 529.1 264.0 530.7 262.3 534.0 262.0 536.0 262.8 540.0 264.0 542.6 269.9 550.0 270.9 552.0 234.6 552.0 232.5 528.0 233.1 514.0 235.6 502.0 238.1 494.0 241.8 486.0 246.0 480.2 256.0 468.9 263.2 462.0 274.3 454.0 282.0 450.8 294.0 449.2 320.0 450.8 332.0 449.9 338.0 450.0 346.0 451.4 366.0 456.9 378.0 459.4 394.0 460.4 412.0 460.2 420.0 459.4 428.0 457.8 456.0 448.2 470.0 446.6 474.0 444.0 475.7 442.0 480.0 433.7 483.3 430.0 488.0 427.4 494.0 425.6 506.0 424.0 512.0 423.8 530.0 426.0 548.0 428.9 560.0 429.6 572.0 429.5 576.0 430.0 579.7 432.0 582.2 436.0 584.7 446.0 586.2 456.0 586.0 460.0 584.9 464.0 582.0 468.0 577.6 472.0 574.4 476.0 572.7 480.0 571.9 484.0 571.8 488.0 573.0 494.0 574.8 498.0 578.7 504.0 579.4 506.0 579.2 508.0 578.0 510.0 570.0 516.0 566.1 520.0 564.2 524.0 564.9 532.0 564.0 537.0 560.0 542.1 555.0 546.0 553.5 548.0 552.0 552.0ZM564.5 452.0 566.4 450.0 568.5 446.0 569.3 442.0 569.1 440.0 568.2 438.0 566.5 436.0 564.0 434.3 560.0 433.0 558.0 433.3 554.0 435.4 551.1 438.0 549.4 442.0 549.8 446.0 552.0 450.0 556.0 453.0 560.0 453.8 562.0 453.4 564.5 452.0ZM730.0 552.0 667.1 552.0 667.7 544.0 669.2 536.0 672.3 528.0 677.3 522.0 684.0 516.8 696.0 511.1 699.6 508.0 702.7 504.0 705.3 502.0 724.0 496.3 730.0 496.4 730.0 552.0ZM399.6 546.0 402.0 542.8 403.3 538.0 402.8 534.0 400.8 530.0 398.0 527.7 394.0 526.5 390.0 526.9 386.0 528.7 384.0 531.3 383.3 534.0 384.0 538.0 386.0 541.3 390.0 545.1 394.0 547.3 396.0 547.6 398.0 547.2 399.6 546.0Z"/>
<path fill-rule="evenodd" fill="rgb(135,0,0)" d="M532.0 475.2 530.0 475.8 528.0 475.6 526.0 474.4 524.2 472.0 523.7 470.0 523.9 468.0 526.0 465.2 528.0 464.4 530.0 464.4 532.0 465.2 534.0 467.3 534.9 470.0 534.6 472.0 533.4 474.0 532.0 475.2ZM730.0 552.0 697.2 552.0 695.9 544.0 696.0 540.0 698.5 536.0 702.0 533.4 706.0 532.0 710.0 532.2 713.9 534.0 726.0 545.6 730.0 547.6 730.0 552.0Z"/>
<pattern id="stip" width="3" height="3" patternUnits="userSpaceOnUse"><path d="M0 0h3v3H0zM1 1h1v1H1z" fill="#000" fill-rule="evenodd"/></pattern>
<polygon points="275.0,352.0 285.5,352.0 285.5,360.0 284.0,366.0 282.0,371.5 275.0,371.5" fill="url(#stip)"/>
<polygon points="266.0,385.5 276.0,385.5 280.0,392.0 283.0,400.0 283.0,410.0 280.0,418.0 276.0,424.0 268.0,427.0 258.0,427.0 248.0,426.0 238.0,425.0 236.0,418.0 236.0,412.5 255.0,412.5 255.0,403.0 266.0,403.0" fill="url(#stip)"/>
</g>
<g clip-path="url(#sea)" fill="none" stroke="#000" stroke-width="1" stroke-linejoin="round">
<polyline points="457.0,165.0 464.0,167.5 467.0,170.5 463.2,178.0 461.8,187.0 461.0,194.5 458.0,198.2 447.5,196.8 437.0,202.0 425.0,208.0 407.8,220.0 395.0,221.0 383.0,222.0 370.0,225.0 364.0,231.0 359.5,234.0 352.0,237.0 344.5,239.2 337.0,241.5 331.0,244.5 328.0,249.0 323.5,252.0 316.0,253.5 310.0,255.0 305.5,258.0 304.0,262.5 299.5,266.2 297.0,269.0 300.0,272.0 305.5,274.5 308.5,280.5 311.5,286.5 313.0,294.0 313.8,303.0 314.7,316.7 315.3,330.0 314.7,343.0 313.3,352.0 325.2,356.6 328.2,359.6 331.2,362.6 334.2,365.6 337.0,368.7 339.4,372.1 341.6,375.7 342.9,379.7 344.0,383.8 344.4,388.0 344.1,392.2 343.4,396.4 341.8,400.2 340.0,403.9 337.4,407.2 334.6,410.3 331.6,413.2 327.8,415.2 323.9,417.0 319.8,418.1 315.6,419.1 311.4,419.9 307.1,420.7 302.9,421.4 298.7,422.5 294.6,423.8 290.5,425.0 286.3,425.9 282.1,426.8 277.9,427.6 273.6,428.3 269.3,429.0 265.1,429.5 260.8,429.9 256.6,429.4 252.3,429.4 248.1,430.1 243.9,431.0 239.7,432.1 235.6,433.3 231.5,434.4 227.5,436.0 223.7,438.0 219.8,439.9 215.9,441.6 211.7,442.4 207.4,442.5 203.1,442.5 198.9,442.6 194.6,442.6 190.3,442.7 186.0,442.7 181.8,442.8 177.6,442.6 173.4,442.4 169.2,442.4 164.9,442.9 160.7,443.5"/>
<polyline points="556.0,141.0 548.0,148.0 540.0,156.0 534.0,164.0 528.0,166.0 520.0,162.0 510.0,158.0 498.0,155.0 491.0,150.0 488.0,144.0 477.0,140.0 466.0,144.0 469.0,150.0 472.0,158.0 475.0,168.0 478.0,178.0 481.0,186.0 484.0,192.0 482.0,199.0 477.5,205.0 464.0,206.5 447.5,211.8 429.5,217.0 415.0,229.5 407.5,232.5 400.0,235.5 392.5,238.5 385.0,241.5 379.0,243.8 374.5,246.0 371.5,250.5 370.0,255.0 365.5,259.5 359.5,262.5 355.0,264.8 352.8,267.8 345.0,274.0 331.0,279.0 326.5,285.0 323.5,289.5 322.8,295.5 323.5,303.0 324.2,308.3 322.5,316.7 320.0,333.3 319.2,346.7 320.0,352.0 329.3,356.7 332.3,359.9 335.3,363.1 338.3,366.3 341.0,369.6 343.3,373.2 345.5,377.0 346.6,381.2 347.6,385.4 347.9,389.7 347.4,394.0 346.6,398.3 344.7,402.1 342.6,405.9 339.8,409.1 336.8,412.2 333.6,415.1 329.7,417.1 325.7,418.9 321.4,419.9 317.2,420.9 312.8,421.7 308.5,422.5 304.2,423.2 299.9,424.3 295.7,425.6 291.5,426.8 287.2,427.7 282.9,428.6 278.5,429.3 274.2,430.1 269.8,430.7 265.5,431.2 261.1,431.6 256.8,430.9 252.4,430.9 248.1,431.6 243.8,432.6 239.6,433.8 235.4,435.1 231.2,436.3 227.1,437.9 223.3,440.1 219.4,442.1 215.4,443.9 211.1,444.7 206.7,444.7 202.3,444.6 197.9,444.6 193.6,444.5 189.2,444.5 184.8,444.4 180.5,444.3 176.1,444.0 171.8,443.7 167.5,443.5 163.1,443.9 158.8,444.4"/>
<polyline points="726.0,220.0 719.0,216.0 711.0,210.6 700.0,204.0 689.0,207.0 677.5,216.0 670.0,224.0 659.0,235.0 647.5,246.0 636.0,257.5 625.0,265.0 617.5,270.6 608.0,278.0 595.0,283.8 580.0,285.0 570.0,288.0 560.0,292.0 537.0,300.0 516.0,303.0 504.0,301.6 496.0,302.0 488.0,307.0 483.0,300.0 478.0,290.0 478.0,280.0 481.0,273.0 486.0,266.0 491.5,260.5 495.0,253.5 500.0,249.0 507.0,247.0 507.0,240.0 517.0,234.0 528.0,237.0 538.0,238.0 550.0,242.0 560.0,243.0 570.0,240.0 578.0,234.0 582.0,228.0 586.0,222.0 588.0,214.0 586.0,209.0 580.0,206.0 570.0,207.0 560.0,203.0 550.0,196.0 540.0,189.0 530.0,183.0 519.0,178.0 507.0,174.0 503.0,179.0 502.0,186.0 496.0,192.0 488.0,200.0 482.0,205.0 470.0,208.0 460.0,212.0 443.0,218.5 429.5,223.0 423.5,226.0 419.0,232.0 411.5,241.0 404.0,247.0 416.0,251.0 427.5,255.0 433.8,262.5 437.5,272.5 440.0,280.0 437.5,287.5 430.0,290.0 422.5,288.8 407.5,283.8 395.0,282.5 380.0,285.0 370.0,288.8 362.5,292.5 352.5,297.5 340.0,305.0 333.3,306.7 330.0,316.7 327.5,333.3 326.7,341.7 328.0,350.0 333.5,356.9 336.4,360.2 339.4,363.6 342.3,367.0 345.0,370.5 347.2,374.4 349.3,378.3 350.3,382.6 351.2,387.0 351.3,391.4 350.7,395.8 349.7,400.2 347.6,404.1 345.3,407.8 342.2,411.0 339.0,414.1 335.6,417.0 331.6,419.0 327.5,420.8 323.1,421.8 318.7,422.7 314.3,423.5 309.9,424.3 305.4,425.0 301.1,426.0 296.8,427.4 292.4,428.5 288.0,429.5 283.6,430.3 279.2,431.1 274.8,431.8 270.3,432.4 265.8,432.9 261.4,433.3 257.0,432.4 252.6,432.4 248.1,433.1 243.8,434.2 239.5,435.5 235.2,436.9 230.9,438.2 226.8,439.9 222.9,442.2 219.0,444.3 214.9,446.2 210.5,447.0 206.0,446.8 201.5,446.7 197.0,446.6 192.5,446.4 188.1,446.3 183.6,446.2 179.1,445.9 174.7,445.4 170.3,444.9 165.8,444.5 161.4,444.8 156.9,445.2"/>
<polyline points="726.0,250.0 701.9,251.9 683.1,255.6 664.4,259.4 653.1,264.0 651.2,274.4 645.6,278.1 646.6,281.9 651.2,285.6 655.0,289.4 660.6,295.0 668.1,299.7 670.0,303.0 658.8,301.6 651.2,299.7 641.9,296.9 630.6,294.0 615.6,294.0 602.5,297.8 591.2,302.5 580.0,307.2 576.0,309.0 560.0,315.0 546.0,320.0 536.0,326.0 528.0,336.0 519.0,350.0 518.0,358.0 522.0,364.0 528.0,370.0 530.0,378.0 536.0,384.0 541.0,390.0 537.0,400.0 515.0,398.8 495.0,396.2 470.0,391.2 447.5,385.0 443.8,377.5 447.5,370.0 452.0,366.0 456.0,358.0 459.0,349.0 444.0,344.0 430.0,342.5 415.0,337.5 407.5,330.0 406.2,317.5 402.5,307.5 395.0,302.5 385.0,301.0 375.0,302.0 360.0,304.0 348.3,310.0 340.0,316.7 335.0,325.0 331.7,333.3 330.0,341.7 331.7,350.0 334.6,353.5 337.6,357.1 340.5,360.6 343.4,364.1 346.4,367.7 349.0,371.4 351.0,375.5 353.1,379.6 354.0,384.1 354.8,388.6 354.8,393.2 354.0,397.7 352.8,402.1 350.5,406.0 347.9,409.8 344.6,413.0 341.2,416.0 337.6,418.9 333.5,420.9 329.3,422.7 324.8,423.6 320.3,424.5 315.8,425.3 311.2,426.0 306.7,426.7 302.2,427.8 297.9,429.1 293.4,430.3 288.9,431.2 284.4,432.1 279.9,432.8 275.3,433.5 270.8,434.1 266.2,434.6 261.7,434.9 257.2,434.0 252.7,433.9 248.1,434.6 243.7,435.8 239.4,437.2 235.0,438.7 230.6,440.1 226.5,441.9 222.5,444.3 218.5,446.5 214.4,448.5 209.9,449.2 205.3,449.0 200.7,448.8 196.1,448.6 191.5,448.3 186.9,448.1 182.4,447.9 177.8,447.4 173.3,446.7 168.7,446.1 164.2,445.5 159.6,445.8 155.0,446.0"/>
<polyline points="566.0,160.0 573.8,168.8 577.5,182.5 582.5,186.2 589.5,183.5 595.0,180.0 602.5,175.0 603.8,165.0 600.0,156.2 590.0,158.0 566.0,160.0"/>
<polyline points="628.8,219.0 627.8,210.6 623.1,205.0 618.4,197.5 619.4,193.8 625.0,189.0 632.5,185.3 641.9,184.4 650.3,185.3 655.0,189.0 656.0,197.5 654.0,206.9 651.2,212.5 646.6,216.2 641.0,219.0 635.0,220.0 628.8,219.0"/>
<polyline points="609.0,161.0 620.0,163.5 647.5,163.5 664.4,165.6 683.1,166.6 692.5,167.5 711.2,164.5 719.0,166.0 726.0,173.0"/>
<polyline points="426.5,229.8 429.5,238.0 437.0,238.0 446.0,232.0 458.0,229.0 462.5,230.5 459.5,236.5 452.0,239.5 440.0,241.0 429.5,241.8 425.8,236.5 426.5,229.8"/>
<polyline points="726.0,405.0 714.0,410.0 699.0,408.5 687.0,411.5 679.5,416.0 673.5,426.5 679.5,432.5 682.9,440.0 684.7,445.4 690.1,450.8 695.5,453.5 690.1,456.2 685.6,459.8 686.5,463.4 690.1,468.8 692.8,474.2 691.9,479.6 686.5,484.1 677.5,488.6 668.5,492.3 659.5,494.0 654.0,497.7 650.5,503.0 645.0,504.0 636.0,504.9 627.0,507.0 620.0,511.0 613.0,512.0 607.2,512.0 603.6,513.9 600.0,515.7 594.5,519.0 582.6,524.2 579.7,522.7 582.6,518.3 588.6,512.3 597.5,506.4 603.6,503.0 609.0,497.7 618.0,492.3 627.0,489.5 636.0,488.6 646.8,486.8 652.3,483.2 654.0,477.8 652.3,474.2 647.0,472.4 640.0,466.0 632.4,459.0 632.4,452.6 628.8,447.2 627.0,440.0 624.1,429.3 621.2,405.6 619.7,384.8 615.6,377.0 619.4,370.0 623.1,362.5 628.8,355.0 636.2,347.5 643.0,344.0 658.8,345.6 666.2,349.4 670.0,351.2 670.9,341.9 670.0,336.2 662.5,332.5 655.0,326.9 647.5,321.2 636.2,316.6 628.8,315.6 617.5,317.5 604.4,322.2 591.2,326.9 580.0,331.6 570.0,342.0 564.0,351.0 570.0,355.0 578.0,358.0 586.0,362.0 590.0,366.0 591.5,370.0 596.0,376.0 601.9,387.8 603.4,405.6 602.8,416.0 592.4,420.4 582.5,418.8 557.5,418.0 532.5,416.2 507.5,413.8 482.5,410.0 455.0,408.8 441.0,410.0 430.0,413.8 425.0,420.0 430.0,427.5 427.5,432.5 420.0,437.5 410.0,443.5 399.3,442.4 386.5,441.3 375.9,438.1 372.7,430.7 374.0,424.0 386.0,420.0 399.0,420.0 408.7,416.0 410.0,410.7 404.7,406.7 397.0,398.0 386.0,402.0 383.3,405.3 376.7,408.7 370.0,413.3 363.3,418.7 356.7,424.0 347.3,428.0 338.0,432.0 330.0,434.7 315.0,435.5 304.5,437.8 294.0,440.0 288.0,441.0 276.0,443.5 267.0,450.0 258.5,456.3 248.0,468.0 240.0,474.0 234.0,482.0 228.0,490.0 222.0,502.0 220.0,514.0 218.0,526.0 216.0,542.0 215.0,550.0"/>
<polyline points="726.0,261.0 711.2,262.2 700.0,265.0 698.1,268.0 699.0,272.5 703.8,277.2 711.2,279.1 718.8,283.8 720.6,293.1 718.8,302.5 715.0,308.1 717.8,317.5 721.5,325.0 723.0,331.0 724.5,338.0 723.0,350.0 721.5,359.0 727.0,368.0"/>
<polyline points="154.5,451.5 165.0,452.2 180.0,453.0 190.5,454.5 193.5,459.0 194.2,465.0 192.0,472.5 190.5,480.0 188.0,490.0 189.0,510.0 191.0,530.0 192.0,550.0"/>
<polyline points="342.0,342.0 344.0,332.0 350.0,328.0 362.0,327.0 368.0,332.0 368.0,344.0 367.0,355.0 360.0,354.0 350.0,348.0 342.0,342.0"/>
<polyline points="386.0,366.0 396.0,363.0 398.0,370.0 394.0,380.0 388.0,388.0 384.0,384.0 384.0,372.0 386.0,366.0"/>
<polyline points="678.4,289.4 685.0,285.6 692.5,283.8 701.9,284.7 705.6,289.4 706.6,300.6 700.0,303.0 694.4,301.0 686.9,296.0 681.2,292.2 678.4,289.4"/>
<polyline points="117.0,546.0 118.0,530.0 121.0,515.0 127.0,505.0 133.0,497.0 140.0,492.0 146.0,489.0 152.0,486.0 157.0,490.0 160.0,497.0 160.0,510.0 161.0,525.0 162.0,540.0 162.0,548.0 117.0,546.0"/>
<polyline points="240.0,550.0 240.0,546.0 237.0,530.0 236.0,516.0 238.0,506.0 240.0,496.0 244.0,486.0 252.0,476.0 260.7,465.9 271.3,457.3 282.0,452.0 292.7,451.0 301.2,452.0 309.7,454.1 318.3,456.3 326.8,455.2 335.3,454.1 339.6,455.2 348.0,458.4 361.0,463.7 378.0,467.0 393.0,467.0 417.7,467.0 432.6,464.8 443.3,460.5 454.0,457.3 460.4,453.0 471.0,449.9 479.6,441.3 486.0,432.8 496.6,428.5 509.4,426.4 522.2,427.5 535.0,429.6 547.8,432.8 555.0,432.5 579.0,432.0 576.2,445.0 577.5,455.0 580.0,462.0"/>
<polyline points="365.0,550.0 367.3,541.6 371.6,535.2 378.0,528.8 388.7,520.3 399.3,509.6 404.0,498.0 416.0,494.0 428.0,493.6 441.2,484.0 454.0,471.2 464.6,465.8 477.4,461.6 481.7,464.8 483.8,471.2 492.3,475.4 505.1,475.4 513.7,476.5 509.4,481.8 500.9,486.1 492.3,492.5 488.1,496.8 496.6,498.9 509.4,503.2 525.0,507.4 549.5,509.0 565.0,512.0 580.0,508.0"/>
<polyline points="727.0,478.0 716.0,488.0 707.6,494.0 697.3,497.7 686.5,502.2 677.5,506.7 668.5,511.2 659.5,515.7 650.5,519.3 641.4,524.7 632.4,528.3 618.0,531.9 609.0,535.5 600.0,537.3 590.0,540.0 580.0,545.0 575.0,550.0"/>
<polyline points="727.0,525.0 708.1,528.3 693.7,533.7 682.9,539.1 675.7,535.5 675.7,528.3 684.7,519.3 697.3,515.7 702.7,512.0 704.5,503.0 712.0,501.0 720.0,501.0 727.0,497.0"/>
<polyline points="524.0,128.0 530.0,126.0 539.0,127.0 536.0,132.0 529.0,137.0 525.0,134.0 524.0,128.0"/>
<polyline points="548.0,158.0 553.0,162.0 550.0,166.0 548.0,158.0"/>
<polyline points="492.0,202.0 498.0,200.0 505.0,204.0 499.0,209.0 493.0,206.0 492.0,202.0"/>
<polyline points="484.0,212.0 489.0,211.0 490.0,216.0 485.0,215.0 484.0,212.0"/>
<polyline points="445.0,186.0 451.0,188.0 448.0,192.0 445.0,190.0 445.0,186.0"/>
<polyline points="496.0,456.0 500.0,460.0 501.0,466.0 497.0,469.0 493.0,463.0 496.0,456.0"/>
<polyline points="538.0,472.0 543.0,478.0 541.0,488.0 536.0,482.0 538.0,472.0"/>
<polyline points="531.0,520.0 537.0,517.0 541.0,521.0 536.0,525.0 531.0,520.0"/>
<polyline points="499.0,529.0 508.0,527.0 514.0,530.0 508.0,536.0 502.0,533.0 499.0,529.0"/>
<polyline points="546.0,533.0 550.0,538.0 547.0,543.0 544.0,538.0 546.0,533.0"/>
<polyline points="648.0,529.0 653.0,530.0 655.0,533.0 652.0,537.0 648.0,536.0 648.0,529.0"/>
<polyline points="316.5,268.0 319.0,273.0 317.0,279.0 314.5,274.0 316.5,268.0"/>
<polyline points="509.0,245.0 516.0,244.0 523.0,246.0 517.0,249.0 511.0,248.0 509.0,245.0"/>
<polyline points="466.0,239.0 471.0,238.0 473.0,242.0 468.0,244.0 466.0,239.0"/>
<polyline points="262.9,406.0 264.4,404.0 266.0,398.5 270.0,394.4 269.5,392.0 268.0,390.9 266.0,390.6 258.0,390.8 250.0,389.5 247.4,390.0 247.1,392.0 248.2,394.0 255.6,404.0 258.0,406.0 260.0,406.6 262.9,406.0"/>
<polyline points="262.4,408.0 265.3,406.0 268.0,401.2 272.4,396.0 273.0,392.0 272.0,389.5 261.9,378.0 257.4,374.0 251.4,370.0 238.0,363.7 226.0,360.4 224.4,362.0 225.3,364.0 232.0,374.8 237.4,382.0 242.0,394.4 249.4,408.0 250.0,408.7 254.0,407.9 262.4,408.0"/>
<polyline points="252.3,412.0 256.0,409.8 262.0,409.3 264.9,408.0 274.0,397.0 275.2,392.0 272.6,382.0 272.6,378.0 275.2,372.0 278.8,368.0 279.6,366.0 279.0,364.0 278.0,362.7 276.0,362.0 266.0,364.4 254.0,363.8 246.0,362.3 222.0,356.1 220.6,358.0 221.6,362.0 235.6,384.0 240.0,398.0 242.4,410.0 248.0,413.0 250.0,413.2 252.3,412.0"/>
<polyline points="252.1,414.0 256.0,411.3 262.0,410.3 266.7,408.0 274.0,400.2 276.0,397.2 277.4,392.0 276.6,384.0 277.0,380.0 278.8,374.0 282.1,368.0 282.6,366.0 282.0,362.5 280.0,358.0 278.0,356.1 270.0,353.3 256.7,342.0 250.6,338.0 234.0,329.6 225.0,324.0 216.0,319.6 207.0,314.0 198.0,309.6 189.0,304.0 173.8,296.0 168.1,294.0 165.5,294.0 170.0,300.9 176.4,308.0 192.0,328.2 207.4,342.0 212.0,345.2 216.5,350.0 218.0,358.0 219.5,362.0 232.0,382.0 233.8,386.0 235.5,396.0 235.9,408.0 237.4,412.0 240.0,413.2 244.0,413.5 248.0,414.6 250.0,414.8 252.1,414.0"/>
<polyline points="253.8,414.0 256.0,412.6 264.0,410.7 268.0,408.4 274.9,402.0 277.9,398.0 279.7,392.0 279.8,378.0 284.8,366.0 284.1,362.0 281.6,356.0 280.0,354.2 274.0,350.3 266.9,344.0 260.5,340.0 250.0,334.0 236.0,327.1 227.9,322.0 196.0,304.9 191.9,302.0 171.3,292.0 162.0,289.3 158.0,289.5 157.5,290.0 159.5,294.0 168.0,304.7 174.7,312.0 192.0,334.6 202.0,344.5 210.0,350.7 214.0,355.4 219.2,366.0 226.0,377.0 228.9,384.0 229.5,406.0 230.2,410.0 231.9,412.0 236.1,414.0 240.0,415.0 244.0,414.8 250.0,415.9 253.8,414.0"/>
<polyline points="252.5,416.0 258.0,413.0 266.0,410.8 270.8,408.0 277.6,402.0 280.5,398.0 282.0,394.0 282.6,390.0 281.8,378.0 286.5,368.0 286.9,366.0 285.4,360.0 282.1,354.0 273.0,346.0 267.3,342.0 234.0,324.5 190.8,300.0 174.8,292.0 168.9,290.0 162.0,287.9 156.0,287.2 154.0,287.6 153.5,288.0 154.4,290.0 158.0,295.4 180.1,322.0 189.8,336.0 192.6,342.0 198.0,361.9 205.7,386.0 212.0,398.1 223.7,412.0 226.4,414.0 240.0,416.3 244.0,416.0 250.0,416.8 252.5,416.0"/>
<polyline points="220.6,418.0 224.0,416.9 234.0,416.7 240.0,417.4 244.0,416.9 250.0,417.7 258.0,414.0 264.0,412.7 268.0,411.0 273.5,408.0 278.7,404.0 283.5,398.0 285.4,392.0 285.7,386.0 284.2,378.0 285.9,374.0 288.4,370.0 289.3,366.0 288.4,362.0 286.5,358.0 282.0,351.8 275.7,346.0 270.0,342.0 236.0,324.5 192.0,299.6 176.0,291.7 165.3,288.0 154.0,285.6 149.6,286.0 149.5,288.0 155.3,296.0 178.6,324.0 186.0,334.6 192.5,356.0 201.2,388.0 205.3,400.0 209.4,408.0 212.2,412.0 218.0,418.0 220.6,418.0"/>
<polyline points="220.6,422.0 224.0,419.8 228.0,418.7 234.0,418.1 240.0,418.5 244.0,417.9 250.0,418.6 252.0,418.2 258.0,415.1 266.0,413.1 272.0,410.6 282.5,404.0 287.3,398.0 288.9,392.0 289.5,386.0 288.8,378.0 292.5,368.0 291.9,364.0 290.0,360.0 282.0,349.7 275.3,344.0 270.0,340.8 236.0,323.4 192.0,298.6 173.7,290.0 154.0,284.6 144.0,283.8 142.0,283.1 134.0,277.8 132.0,277.6 134.0,284.8 182.0,403.9 194.4,422.0 196.0,423.2 198.0,423.9 202.0,423.2 208.0,423.4 214.0,421.4 218.0,422.2 220.6,422.0"/>
<polyline points="200.9,426.0 208.0,425.7 214.0,423.9 220.0,424.4 226.0,420.8 232.0,419.6 240.0,419.6 244.0,418.9 250.0,419.5 252.0,419.1 258.0,416.2 273.0,412.0 284.9,406.0 290.0,402.0 292.4,398.0 295.2,384.0 295.1,378.0 297.5,370.0 297.2,366.0 296.3,364.0 293.5,360.0 282.5,348.0 277.8,344.0 270.0,339.5 236.0,322.4 194.0,298.7 174.0,289.5 163.1,286.0 144.0,281.9 132.0,273.9 130.0,273.3 128.0,273.7 128.3,276.0 131.2,284.0 180.0,405.4 186.0,416.5 191.0,424.0 193.9,426.0 196.0,426.4 200.9,426.0"/>
<polyline points="200.5,428.0 208.0,427.5 214.0,426.0 220.0,426.2 227.5,422.0 232.0,420.9 240.0,420.7 244.0,419.9 252.0,420.0 258.0,417.5 278.3,412.0 307.5,400.0 312.4,396.0 314.0,393.5 314.9,390.0 314.9,380.0 314.0,375.5 312.4,372.0 307.3,366.0 294.0,356.7 288.0,351.4 283.1,346.0 278.0,342.4 237.3,322.0 230.0,317.4 192.0,296.7 176.0,289.5 164.0,285.6 144.0,280.8 130.7,272.0 128.0,271.2 126.0,271.7 125.7,274.0 129.5,284.0 173.5,394.0 187.1,426.0 188.0,427.9 190.0,428.8 200.5,428.0"/>
<polyline points="190.0,432.0 202.0,429.5 220.0,427.8 228.0,423.5 232.0,422.3 244.0,421.0 252.0,421.0 260.0,418.3 276.0,414.8 310.0,404.2 316.1,400.0 319.5,394.0 320.3,390.0 320.5,384.0 319.9,378.0 318.6,374.0 316.0,369.1 310.7,364.0 304.9,360.0 296.0,355.2 284.4,344.0 280.0,341.1 263.7,334.0 240.1,322.0 228.0,314.8 218.3,310.0 214.0,307.0 194.0,296.6 176.0,288.8 164.0,285.0 146.0,280.6 140.0,277.3 132.0,271.6 128.0,269.9 126.0,269.5 124.0,270.0 123.5,272.0 124.6,276.0 179.9,414.0 182.3,424.0 182.7,430.0 184.0,432.1 190.0,432.0"/>
<polyline points="188.7,434.0 200.0,431.4 220.0,429.2 232.0,423.8 244.0,422.2 252.0,422.0 274.0,417.2 312.0,406.1 318.0,401.9 320.9,398.0 322.7,394.0 323.5,390.0 323.6,384.0 322.8,378.0 321.6,374.0 319.5,370.0 316.2,366.0 308.0,359.6 297.5,354.0 295.2,352.0 290.0,344.7 280.0,336.5 264.5,330.0 240.9,318.0 232.0,312.5 212.0,302.9 176.0,288.1 164.0,284.3 146.0,279.7 130.0,269.7 126.0,268.1 121.9,268.0 120.2,270.0 121.3,276.0 172.0,401.8 175.5,414.0 176.3,422.0 178.0,428.0 177.3,432.0 177.6,434.0 180.0,434.8 188.7,434.0"/>
<polyline points="297.7,50.0 311.6,56.0 322.0,59.4 337.6,66.0 348.0,69.4 363.6,76.0 374.0,79.4 405.7,92.0 416.0,94.4 436.0,94.7 446.0,97.4 448.3,96.0 448.2,94.0 446.9,92.0 440.1,86.0 431.7,82.0 418.0,77.0 406.0,71.1 398.2,66.0 388.0,61.1 382.0,57.3 378.2,54.0 376.6,52.0 376.2,50.0"/>
<polyline points="70.0,325.3 74.0,327.8 114.0,371.1 166.5,424.0 170.0,428.1 172.8,434.0 176.0,436.3 182.0,436.5 200.0,433.1 210.0,432.3 220.0,430.6 232.0,425.5 244.0,423.5 252.0,423.1 272.0,419.5 310.0,409.3 316.0,406.7 320.0,403.8 323.1,400.0 325.9,394.0 326.7,388.0 326.3,380.0 324.4,374.0 320.8,368.0 316.8,364.0 311.6,360.0 297.8,352.0 292.0,341.5 284.0,330.2 279.6,326.0 273.8,322.0 258.0,313.8 240.0,307.1 220.0,301.1 200.0,296.1 182.0,290.0 176.0,287.3 146.0,278.8 132.0,269.8 126.0,267.0 118.0,264.7 80.0,238.5 74.4,234.0 70.0,231.6"/>
<polyline points="285.5,50.0 288.3,52.0 310.0,60.8 319.6,64.0 388.0,90.8 412.0,99.3 420.0,100.9 444.0,101.0 448.0,100.4 450.8,98.0 451.4,96.0 451.2,94.0 450.0,91.4 447.1,88.0 442.0,84.2 410.0,68.8 398.6,62.0 388.0,56.7 382.0,52.2 380.6,50.0"/>
<polyline points="70.0,327.6 72.0,328.6 82.9,340.0 100.0,360.3 130.0,392.9 164.6,428.0 170.3,436.0 174.0,437.6 180.0,438.0 202.0,434.6 214.0,433.5 222.0,431.5 234.0,426.7 272.0,421.3 310.0,411.6 316.0,409.5 322.1,406.0 326.0,401.4 329.3,394.0 329.9,388.0 329.5,380.0 328.5,376.0 326.5,372.0 321.9,366.0 318.0,362.6 306.0,354.4 301.0,352.0 298.7,350.0 297.2,346.0 294.3,332.0 291.6,328.0 288.0,325.0 280.0,320.7 258.0,311.0 240.0,304.3 220.0,298.6 192.0,292.0 166.0,283.2 146.5,278.0 132.0,268.9 120.0,263.7 74.7,232.0 70.0,229.4"/>
<polyline points="262.1,50.0 266.0,54.0 272.0,58.3 284.0,70.0 288.0,72.6 294.0,78.0 304.0,83.4 317.7,92.0 328.0,97.4 355.7,114.0 378.0,125.9 384.0,127.7 388.0,128.1 424.0,128.2 434.0,126.2 438.0,124.1 438.5,122.0 438.0,120.8 429.0,112.0 427.5,110.0 427.0,108.0 429.4,106.0 444.0,104.3 450.2,102.0 452.4,100.0 453.8,96.0 453.6,94.0 451.7,90.0 448.0,86.2 442.0,82.3 408.0,65.8 400.0,60.8 388.0,54.7 384.5,52.0 382.9,50.0"/>
<polyline points="70.0,329.2 72.0,330.4 81.2,340.0 86.0,346.3 95.1,356.0 98.0,360.1 107.4,370.0 128.0,393.8 162.0,429.2 168.0,437.3 170.0,438.4 180.0,439.1 214.0,435.5 235.7,428.0 246.0,425.9 260.0,424.9 274.0,422.8 312.0,413.3 320.0,410.5 324.2,408.0 328.0,404.0 332.1,396.0 333.1,390.0 332.8,382.0 331.5,376.0 329.6,372.0 324.8,366.0 320.5,362.0 302.1,350.0 300.6,348.0 299.9,344.0 300.2,332.0 298.9,326.0 299.2,320.0 298.0,316.0 294.3,310.0 294.3,308.0 298.7,302.0 299.0,300.0 298.0,297.7 296.0,296.8 294.0,296.8 288.0,298.4 284.0,298.6 248.0,298.6 236.0,297.9 202.8,292.0 184.3,288.0 176.0,284.9 150.4,278.0 145.1,276.0 134.0,268.8 120.0,262.0 76.0,231.0 70.0,227.7"/>
<polyline points="257.2,50.0 258.2,52.0 262.0,55.9 268.0,60.3 280.0,71.9 292.0,81.6 316.0,96.0 364.0,123.3 380.6,134.0 394.4,142.0 414.0,148.1 418.0,148.6 422.0,147.9 425.8,146.0 430.0,142.2 442.8,126.0 444.3,122.0 444.1,120.0 441.4,112.0 442.1,110.0 452.0,104.1 454.2,102.0 456.1,98.0 456.4,96.0 455.5,92.0 453.1,88.0 451.1,86.0 444.0,81.5 408.1,64.0 400.0,59.0 390.0,53.9 385.3,50.0"/>
<polyline points="70.0,330.5 81.6,342.0 86.0,348.0 93.7,356.0 98.0,361.8 105.9,370.0 142.0,411.9 161.0,432.0 165.6,438.0 169.6,440.0 180.0,440.3 214.0,437.5 232.0,430.7 244.0,427.7 262.0,426.3 276.0,424.3 314.0,414.9 322.0,412.2 328.0,408.1 332.8,402.0 335.4,396.0 336.4,390.0 336.2,384.0 335.1,378.0 332.5,372.0 329.7,368.0 324.0,362.2 309.0,352.0 304.8,348.0 303.9,346.0 304.1,334.0 303.1,326.0 302.9,314.0 304.0,302.0 303.9,296.0 302.0,288.3 300.0,284.4 296.0,280.1 294.0,279.6 176.0,279.8 160.6,278.0 151.5,276.0 145.5,274.0 134.0,267.2 122.0,261.2 76.0,229.0 70.0,225.8"/>
<polyline points="254.1,50.0 256.0,53.5 260.0,57.7 266.0,62.0 278.0,73.7 292.0,85.0 314.0,98.8 324.0,104.0 352.0,120.8 362.0,126.0 388.0,142.6 396.0,146.6 414.0,151.6 420.0,152.2 430.0,150.5 434.0,147.2 440.6,138.0 447.1,126.0 448.4,122.0 447.4,114.0 447.7,112.0 449.1,110.0 455.2,106.0 458.2,102.0 459.7,98.0 459.7,96.0 458.7,92.0 455.5,86.0 452.0,82.7 409.3,62.0 402.0,57.3 391.4,52.0 388.9,50.0"/>
<polyline points="70.0,331.9 80.3,342.0 84.7,348.0 92.4,356.0 96.8,362.0 104.5,370.0 140.0,412.3 162.7,438.0 165.3,440.0 168.0,441.0 180.0,441.5 214.0,439.5 230.0,433.1 244.0,429.2 252.0,428.0 262.0,428.0 276.0,426.1 314.0,417.1 323.6,414.0 330.0,409.9 333.7,406.0 336.4,402.0 339.5,394.0 340.0,388.0 339.4,382.0 337.5,376.0 334.2,370.0 326.0,361.0 315.3,354.0 310.8,350.0 309.4,348.0 308.5,344.0 308.1,322.0 309.0,294.0 308.6,290.0 306.6,284.0 304.0,279.4 300.0,274.0 290.0,263.6 288.0,262.9 284.0,262.6 142.0,262.6 134.0,262.1 124.8,258.0 104.1,244.0 100.0,240.5 84.1,230.0 78.0,225.1 74.0,222.5 70.0,221.1"/>
</g>
<g stroke="#809090" stroke-width="1" stroke-dasharray="2 4.5" clip-path="url(#frm)">
<line x1="153.4" y1="53" x2="153.4" y2="548"/>
<line x1="235.7" y1="53" x2="235.7" y2="548"/>
<line x1="318.1" y1="53" x2="318.1" y2="548"/>
<line x1="400.4" y1="53" x2="400.4" y2="548"/>
<line x1="482.7" y1="53" x2="482.7" y2="548"/>
<line x1="565.1" y1="53" x2="565.1" y2="548"/>
<line x1="647.4" y1="53" x2="647.4" y2="548"/>
<line x1="73" y1="72.3" x2="726" y2="72.3"/>
<line x1="73" y1="168.2" x2="726" y2="168.2"/>
<line x1="73" y1="264.0" x2="726" y2="264.0"/>
<line x1="73" y1="359.7" x2="726" y2="359.7"/>
<line x1="73" y1="455.5" x2="726" y2="455.5"/>
</g>
<g fill="none" stroke="#000" stroke-width="2.6" stroke-linejoin="round" stroke-linecap="round" clip-path="url(#frm)">
<polyline points="481.0,52.0 475.0,55.5 462.5,58.5 450.0,63.0 441.2,71.8 446.2,76.8 446.2,88.0 443.8,94.2 435.0,99.2 426.2,104.2 428.8,113.0 427.5,118.0 422.5,123.0 415.0,130.5 412.5,135.5 405.0,143.0 402.5,149.2 395.0,155.5 385.0,163.0 380.0,166.8 373.8,173.0 370.0,178.0 365.0,185.5 357.5,193.0 352.5,195.5 345.0,200.0 331.7,206.7 318.3,217.5 305.0,228.3 293.3,235.8 281.7,242.5 271.7,248.3 263.3,255.0 256.7,261.7 251.7,268.3 258.3,275.0 263.3,270.0 270.0,274.2 275.8,273.3 276.7,285.0 278.8,295.5 275.0,305.5 271.2,313.0 260.0,320.5 257.5,325.5 262.5,330.5 266.2,335.5 262.5,343.0 261.2,345.5 260.0,355.5 257.5,368.0 255.0,378.0 251.2,388.0 247.5,393.0 240.0,393.8 225.0,396.0 210.0,397.5 195.0,398.2 180.0,401.2 174.3,401.2 165.0,403.5 155.6,406.4 148.6,408.2 150.4,411.7 152.7,417.5 156.8,414.0 162.6,411.1 167.3,407.0 174.3,401.5"/>
<polyline points="177.8,397.5 177.0,393.8 168.0,392.2 162.8,390.0 160.2,384.8 160.2,378.0 162.8,373.5 166.5,369.8 171.0,367.5 168.0,363.8 163.5,360.8 154.5,360.0 147.7,359.3 142.5,363.8 135.0,366.8 132.8,372.0 132.0,378.0 134.2,384.0 141.0,389.2 143.2,396.0 144.0,400.5 142.8,405.2 139.3,407.6 130.0,408.7 124.2,411.1 122.4,417.5 120.1,424.5 119.5,429.2 125.3,428.0 130.0,425.1 134.7,419.8 138.7,415.2 144.0,416.9 148.6,419.8 152.1,423.3 148.1,426.8 144.0,430.3"/>
<polyline points="145.1,423.3 141.6,421.6 137.0,422.2 133.5,425.1 127.7,429.2 120.7,433.8 115.4,439.7 113.7,444.3 113.1,451.3 111.3,463.0 114.8,457.1 120.7,451.3 125.3,446.6 131.2,443.1 135.8,439.7 141.6,435.0"/>
<polyline points="140.5,437.3 135.8,443.1 132.3,449.0 130.0,452.5 124.2,458.3 118.3,464.1 112.5,469.4 108.0,475.0 105.0,479.0 103.0,485.0 99.0,487.0 94.0,489.0 92.0,499.0 96.0,508.0 98.0,517.0 92.0,523.0 95.0,528.0 96.0,538.0 97.0,549.0"/>
<polyline points="335.0,103.0 340.0,96.8 347.5,93.0 352.5,94.2 361.2,105.5 367.0,100.0 373.8,108.0 380.0,115.5 386.2,120.5 388.8,128.0 392.5,134.2 397.0,140.5 396.2,148.0 390.0,153.0 386.2,148.0 381.2,138.0 376.2,129.2 368.8,125.5 360.0,124.2 352.5,120.5 343.8,114.2 337.5,106.8 335.0,103.0"/>
<polyline points="344.0,196.0 340.8,196.7 335.8,192.5 334.2,201.7 328.3,204.2 322.5,200.8 319.2,198.3 312.5,201.7 310.8,210.8 305.0,207.5 303.3,220.0 298.3,214.2 291.7,216.7 288.3,220.0 287.5,226.7 292.5,230.0 290.8,234.2 284.2,237.5 275.0,243.3 272.5,235.0 266.7,227.5 265.8,218.3 266.7,206.7 263.3,205.0 258.3,204.2 256.7,210.0 255.0,223.3 252.5,233.3 252.5,243.3 253.3,255.0 258.3,255.8 263.3,255.0"/>
<polyline points="569.6,58.3 581.2,63.6 591.9,62.6 602.5,61.9 613.1,63.6 623.7,66.8 634.4,68.9 645.0,71.1 655.6,71.7 666.2,71.7 676.9,72.1 687.5,73.8 696.0,78.5 704.5,79.6 710.9,76.4 714.1,68.9 717.2,64.7 723.6,59.4 726.0,57.0"/>
<polyline points="569.6,58.3 592.9,80.6 596.1,74.2 606.7,73.2 619.5,76.4 632.2,81.7 640.7,83.8 648.2,81.7 653.5,89.1 657.7,95.5 649.2,96.6 645.0,98.7 638.6,102.9 628.0,102.9 617.4,104.0 609.9,107.2 611.0,110.4 617.4,114.6 632.2,113.6 645.0,116.7 655.6,118.9 664.1,124.2 668.4,128.4 683.2,131.6 687.5,134.8 693.9,142.2 704.5,147.6 717.2,150.7 726.0,152.9"/>
<polyline points="668.4,52.0 669.4,58.3 674.7,59.4 681.1,56.2 687.5,54.1 696.0,59.4 708.7,60.4 721.5,59.4 726.0,55.0"/>
<polyline points="566.0,98.5 565.5,104.0 569.0,111.0 575.5,116.0 586.0,119.0 602.0,123.0 620.0,126.5 645.0,130.0 669.5,136.5" stroke-width="2.1"/>
<polyline points="569.5,99.0 570.5,105.5 574.5,112.5 581.0,119.0 593.0,123.5 609.0,127.5 629.0,131.5 651.0,135.5 669.5,140.0" stroke-width="2.1"/>
</g>
<ellipse cx="345.5" cy="325.5" rx="2.6" ry="2" fill="#fff" stroke="#000" stroke-width="1"/>
<g font-size="11" fill="#000" stroke="#000" stroke-width="0.25">
<rect x="464.4" y="133.6" width="24.0" height="11.4" fill="#fff" stroke="none"/>
<text x="476.4" y="144.2" text-anchor="middle">17.4</text>
<rect x="566.0" y="154.2" width="24.0" height="11.4" fill="#fff" stroke="none"/>
<text x="578.0" y="164.8" text-anchor="middle">17.4</text>
<rect x="495.5" y="167.2" width="23.5" height="11.4" fill="#fff" stroke="none"/>
<text x="507.2" y="177.8" text-anchor="middle">17.6</text>
<rect x="383.6" y="214.8" width="23.4" height="12.2" fill="#fff" stroke="none"/>
<text x="395.3" y="226.2" text-anchor="middle">17.2</text>
<rect x="616.2" y="218.7" width="24.8" height="12.4" fill="#fff" stroke="none"/>
<text x="628.6" y="230.3" text-anchor="middle">17.4</text>
<rect x="505.4" y="227.8" width="23.4" height="12.4" fill="#fff" stroke="none"/>
<text x="517.1" y="239.4" text-anchor="middle">17.6</text>
<rect x="404.0" y="244.8" width="23.6" height="12.2" fill="#fff" stroke="none"/>
<text x="415.8" y="256.2" text-anchor="middle">17.6</text>
<rect x="434.0" y="240.4" width="24.0" height="12.2" fill="#fff" stroke="none"/>
<text x="446.0" y="251.8" text-anchor="middle">17.8</text>
<rect x="333.2" y="268.5" width="23.3" height="12.1" fill="#fff" stroke="none"/>
<text x="344.9" y="279.8" text-anchor="middle">17.4</text>
<rect x="525.0" y="293.2" width="25.0" height="12.9" fill="#fff" stroke="none"/>
<text x="537.5" y="305.3" text-anchor="middle">17.6</text>
<rect x="657.0" y="301.4" width="24.0" height="12.9" fill="#fff" stroke="none"/>
<text x="669.0" y="313.5" text-anchor="middle">17.8</text>
<rect x="693.0" y="300.4" width="15.0" height="12.1" fill="#fff" stroke="none"/>
<text x="700.5" y="311.7" text-anchor="middle">18</text>
<rect x="444.4" y="336.6" width="24.2" height="12.7" fill="#fff" stroke="none"/>
<text x="456.5" y="348.5" text-anchor="middle">17.8</text>
<rect x="643.2" y="335.4" width="14.0" height="12.2" fill="#fff" stroke="none"/>
<text x="650.2" y="346.8" text-anchor="middle">18</text>
<rect x="274.2" y="370.7" width="22.6" height="11.9" fill="#fff" stroke="none"/>
<text x="285.5" y="381.8" text-anchor="middle">15.4</text>
<rect x="390.3" y="391.5" width="14.4" height="12.8" fill="#fff" stroke="none"/>
<text x="397.5" y="403.5" text-anchor="middle">18</text>
<rect x="441.3" y="402.0" width="13.7" height="11.8" fill="#fff" stroke="none"/>
<text x="448.1" y="413.0" text-anchor="middle">18</text>
<rect x="525.0" y="394.2" width="25.0" height="11.9" fill="#fff" stroke="none"/>
<text x="537.5" y="405.3" text-anchor="middle">17.8</text>
<rect x="592.5" y="414.9" width="13.8" height="12.1" fill="#fff" stroke="none"/>
<text x="599.4" y="426.2" text-anchor="middle">18</text>
<rect x="179.6" y="427.0" width="14.0" height="10.8" fill="#fff" stroke="none"/>
<text x="186.6" y="437.0" text-anchor="middle">16</text>
<rect x="555.3" y="425.5" width="24.0" height="12.4" fill="#fff" stroke="none"/>
<text x="567.3" y="437.1" text-anchor="middle">18.2</text>
<rect x="393.2" y="460.8" width="24.5" height="12.0" fill="#fff" stroke="none"/>
<text x="405.4" y="472.0" text-anchor="middle">18.2</text>
<rect x="632.4" y="458.8" width="14.9" height="12.6" fill="#fff" stroke="none"/>
<text x="639.8" y="470.6" text-anchor="middle">18</text>
<rect x="403.9" y="487.4" width="24.1" height="12.1" fill="#fff" stroke="none"/>
<text x="415.9" y="498.7" text-anchor="middle">18.2</text>
<rect x="525.0" y="502.8" width="24.5" height="11.8" fill="#fff" stroke="none"/>
<text x="537.2" y="513.8" text-anchor="middle">18.2</text>
<rect x="612.9" y="505.6" width="14.2" height="12.4" fill="#fff" stroke="none"/>
<text x="620.0" y="517.2" text-anchor="middle">18</text>
<rect x="707.2" y="489.2" width="19.8" height="12.4" fill="#fff" stroke="none"/>
<text x="717.1" y="500.8" text-anchor="middle">18.</text>
<rect x="291.8" y="395.5" width="24.7" height="17.3" fill="#fff" stroke="none"/>
<text x="304.1" y="412.0" text-anchor="middle">16.6</text>
<rect x="282.2" y="404.7" width="24.2" height="16.9" fill="#fff" stroke="none"/>
<text x="294.3" y="420.8" text-anchor="middle">16.6</text>
<rect x="272.5" y="411.9" width="24.7" height="26.1" fill="#fff" stroke="none"/>
<text x="284.9" y="437.2" text-anchor="middle">17.6</text>
<rect x="262.4" y="432.2" width="24.6" height="12.1" fill="#fff" stroke="none"/>
<text x="274.7" y="443.5" text-anchor="middle">17.8</text>
</g>
<rect x="73" y="53" width="653" height="495" fill="none" stroke="#000" stroke-width="2"/>
<g stroke="#000" stroke-width="1">
<line x1="153.4" y1="548" x2="153.4" y2="551.5"/>
<line x1="235.7" y1="548" x2="235.7" y2="551.5"/>
<line x1="318.1" y1="548" x2="318.1" y2="551.5"/>
<line x1="400.4" y1="548" x2="400.4" y2="551.5"/>
<line x1="482.7" y1="548" x2="482.7" y2="551.5"/>
<line x1="565.1" y1="548" x2="565.1" y2="551.5"/>
<line x1="647.4" y1="548" x2="647.4" y2="551.5"/>
<line x1="69.5" y1="72.3" x2="73" y2="72.3"/>
<line x1="69.5" y1="168.2" x2="73" y2="168.2"/>
<line x1="69.5" y1="264.0" x2="73" y2="264.0"/>
<line x1="69.5" y1="359.7" x2="73" y2="359.7"/>
<line x1="69.5" y1="455.5" x2="73" y2="455.5"/>
</g>
<g font-size="12.5" fill="#000">
<text x="153.4" y="562.5" text-anchor="middle">29</text>
<text x="235.7" y="562.5" text-anchor="middle">29.5</text>
<text x="318.1" y="562.5" text-anchor="middle">30</text>
<text x="400.4" y="562.5" text-anchor="middle">30.5</text>
<text x="482.7" y="562.5" text-anchor="middle">31</text>
<text x="565.1" y="562.5" text-anchor="middle">31.5</text>
<text x="647.4" y="562.5" text-anchor="middle">32</text>
<text x="66.5" y="76.8" text-anchor="end">46.5</text>
<text x="66.5" y="172.7" text-anchor="end">46</text>
<text x="66.5" y="268.5" text-anchor="end">45.5</text>
<text x="66.5" y="364.2" text-anchor="end">45</text>
<text x="66.5" y="460.0" text-anchor="end">44.5</text>
</g>
<g font-size="25" fill="#000" stroke="#fff" stroke-width="0.5">
<text x="75.05" y="41.5" textLength="79.50" lengthAdjust="spacingAndGlyphs">Salinity</text>
<text x="168.80" y="41.5" textLength="62.00" lengthAdjust="spacingAndGlyphs">(ppt).</text>
<text x="245.05" y="41.5" textLength="49.50" lengthAdjust="spacingAndGlyphs">Date</text>
<text x="308.80" y="41.5" textLength="137.00" lengthAdjust="spacingAndGlyphs">2012.09.17.</text>
<text x="458.80" y="41.5" textLength="53.25" lengthAdjust="spacingAndGlyphs">Time</text>
<text x="525.40" y="41.5" textLength="139.80" lengthAdjust="spacingAndGlyphs">00(h):00(m)</text>
<text x="678.80" y="41.5" textLength="46.70" lengthAdjust="spacingAndGlyphs">GMT</text>
</g>
<text x="323.5" y="588.5" font-size="19.5" stroke="#fff" stroke-width="0.4" textLength="151.5" lengthAdjust="spacingAndGlyphs">Longitude (East)</text>
<text transform="translate(30.5,372) rotate(-90)" x="0" y="0" font-size="19.5" stroke="#fff" stroke-width="0.4" textLength="143" lengthAdjust="spacingAndGlyphs">Latitude (North)</text>
<g font-size="19.5" fill="#333">
<text x="110.3" y="107.2" textLength="12.2" lengthAdjust="spacingAndGlyphs">Z</text>
<text x="138.4" y="107.2" textLength="15" lengthAdjust="spacingAndGlyphs">=</text>
<text x="170.3" y="107.2" textLength="32.8" lengthAdjust="spacingAndGlyphs">2.5</text>
<text x="220" y="107.2" textLength="17" lengthAdjust="spacingAndGlyphs">m</text>
</g>
<rect x="734" y="534.00" width="15" height="6.40" fill="rgb(0,0,135)"/>
<rect x="734" y="528.00" width="15" height="6.40" fill="rgb(0,0,149)"/>
<rect x="734" y="522.00" width="15" height="6.40" fill="rgb(0,0,164)"/>
<rect x="734" y="516.00" width="15" height="6.40" fill="rgb(0,0,178)"/>
<rect x="734" y="510.00" width="15" height="6.40" fill="rgb(0,0,193)"/>
<rect x="734" y="504.00" width="15" height="6.40" fill="rgb(0,0,207)"/>
<rect x="734" y="498.00" width="15" height="6.40" fill="rgb(0,0,222)"/>
<rect x="734" y="492.00" width="15" height="6.40" fill="rgb(0,0,236)"/>
<rect x="734" y="486.00" width="15" height="6.40" fill="rgb(0,0,251)"/>
<rect x="734" y="480.00" width="15" height="6.40" fill="rgb(0,0,255)"/>
<rect x="734" y="474.00" width="15" height="6.40" fill="rgb(0,6,255)"/>
<rect x="734" y="468.00" width="15" height="6.40" fill="rgb(0,19,255)"/>
<rect x="734" y="462.00" width="15" height="6.40" fill="rgb(0,32,255)"/>
<rect x="734" y="456.00" width="15" height="6.40" fill="rgb(0,45,255)"/>
<rect x="734" y="450.00" width="15" height="6.40" fill="rgb(0,57,255)"/>
<rect x="734" y="444.00" width="15" height="6.40" fill="rgb(0,70,255)"/>
<rect x="734" y="438.00" width="15" height="6.40" fill="rgb(0,83,255)"/>
<rect x="734" y="432.00" width="15" height="6.40" fill="rgb(0,96,255)"/>
<rect x="734" y="426.00" width="15" height="6.40" fill="rgb(0,108,255)"/>
<rect x="734" y="420.00" width="15" height="6.40" fill="rgb(0,121,255)"/>
<rect x="734" y="414.00" width="15" height="6.40" fill="rgb(0,134,255)"/>
<rect x="734" y="408.00" width="15" height="6.40" fill="rgb(0,147,255)"/>
<rect x="734" y="402.00" width="15" height="6.40" fill="rgb(0,159,255)"/>
<rect x="734" y="396.00" width="15" height="6.40" fill="rgb(0,172,255)"/>
<rect x="734" y="390.00" width="15" height="6.40" fill="rgb(0,185,255)"/>
<rect x="734" y="384.00" width="15" height="6.40" fill="rgb(0,198,255)"/>
<rect x="734" y="378.00" width="15" height="6.40" fill="rgb(0,210,255)"/>
<rect x="734" y="372.00" width="15" height="6.40" fill="rgb(0,223,252)"/>
<rect x="734" y="366.00" width="15" height="6.40" fill="rgb(5,236,242)"/>
<rect x="734" y="360.00" width="15" height="6.40" fill="rgb(15,249,231)"/>
<rect x="734" y="354.00" width="15" height="6.40" fill="rgb(26,255,221)"/>
<rect x="734" y="348.00" width="15" height="6.40" fill="rgb(36,255,211)"/>
<rect x="734" y="342.00" width="15" height="6.40" fill="rgb(46,255,201)"/>
<rect x="734" y="336.00" width="15" height="6.40" fill="rgb(57,255,190)"/>
<rect x="734" y="330.00" width="15" height="6.40" fill="rgb(67,255,180)"/>
<rect x="734" y="324.00" width="15" height="6.40" fill="rgb(77,255,170)"/>
<rect x="734" y="318.00" width="15" height="6.40" fill="rgb(87,255,159)"/>
<rect x="734" y="312.00" width="15" height="6.40" fill="rgb(98,255,149)"/>
<rect x="734" y="306.00" width="15" height="6.40" fill="rgb(108,255,139)"/>
<rect x="734" y="300.00" width="15" height="6.40" fill="rgb(118,255,129)"/>
<rect x="734" y="294.00" width="15" height="6.40" fill="rgb(129,255,118)"/>
<rect x="734" y="288.00" width="15" height="6.40" fill="rgb(139,255,108)"/>
<rect x="734" y="282.00" width="15" height="6.40" fill="rgb(149,255,98)"/>
<rect x="734" y="276.00" width="15" height="6.40" fill="rgb(159,255,87)"/>
<rect x="734" y="270.00" width="15" height="6.40" fill="rgb(170,255,77)"/>
<rect x="734" y="264.00" width="15" height="6.40" fill="rgb(180,255,67)"/>
<rect x="734" y="258.00" width="15" height="6.40" fill="rgb(190,255,57)"/>
<rect x="734" y="252.00" width="15" height="6.40" fill="rgb(201,255,46)"/>
<rect x="734" y="246.00" width="15" height="6.40" fill="rgb(211,255,36)"/>
<rect x="734" y="240.00" width="15" height="6.40" fill="rgb(221,255,26)"/>
<rect x="734" y="234.00" width="15" height="6.40" fill="rgb(231,255,15)"/>
<rect x="734" y="228.00" width="15" height="6.40" fill="rgb(242,251,5)"/>
<rect x="734" y="222.00" width="15" height="6.40" fill="rgb(252,240,0)"/>
<rect x="734" y="216.00" width="15" height="6.40" fill="rgb(255,228,0)"/>
<rect x="734" y="210.00" width="15" height="6.40" fill="rgb(255,216,0)"/>
<rect x="734" y="204.00" width="15" height="6.40" fill="rgb(255,204,0)"/>
<rect x="734" y="198.00" width="15" height="6.40" fill="rgb(255,192,0)"/>
<rect x="734" y="192.00" width="15" height="6.40" fill="rgb(255,181,0)"/>
<rect x="734" y="186.00" width="15" height="6.40" fill="rgb(255,169,0)"/>
<rect x="734" y="180.00" width="15" height="6.40" fill="rgb(255,157,0)"/>
<rect x="734" y="174.00" width="15" height="6.40" fill="rgb(255,145,0)"/>
<rect x="734" y="168.00" width="15" height="6.40" fill="rgb(255,133,0)"/>
<rect x="734" y="162.00" width="15" height="6.40" fill="rgb(255,122,0)"/>
<rect x="734" y="156.00" width="15" height="6.40" fill="rgb(255,110,0)"/>
<rect x="734" y="150.00" width="15" height="6.40" fill="rgb(255,98,0)"/>
<rect x="734" y="144.00" width="15" height="6.40" fill="rgb(255,86,0)"/>
<rect x="734" y="138.00" width="15" height="6.40" fill="rgb(255,74,0)"/>
<rect x="734" y="132.00" width="15" height="6.40" fill="rgb(255,63,0)"/>
<rect x="734" y="126.00" width="15" height="6.40" fill="rgb(255,51,0)"/>
<rect x="734" y="120.00" width="15" height="6.40" fill="rgb(255,39,0)"/>
<rect x="734" y="114.00" width="15" height="6.40" fill="rgb(255,27,0)"/>
<rect x="734" y="108.00" width="15" height="6.40" fill="rgb(251,15,0)"/>
<rect x="734" y="102.00" width="15" height="6.40" fill="rgb(236,4,0)"/>
<rect x="734" y="96.00" width="15" height="6.40" fill="rgb(222,0,0)"/>
<rect x="734" y="90.00" width="15" height="6.40" fill="rgb(207,0,0)"/>
<rect x="734" y="84.00" width="15" height="6.40" fill="rgb(193,0,0)"/>
<rect x="734" y="78.00" width="15" height="6.40" fill="rgb(178,0,0)"/>
<rect x="734" y="72.00" width="15" height="6.40" fill="rgb(164,0,0)"/>
<rect x="734" y="66.00" width="15" height="6.40" fill="rgb(149,0,0)"/>
<rect x="734" y="60.00" width="15" height="6.40" fill="rgb(135,0,0)"/>
<g font-size="14" fill="#000">
<text x="761.5" y="72" textLength="27.5" lengthAdjust="spacingAndGlyphs">18.3</text>
<text x="761.5" y="185" textLength="27.5" lengthAdjust="spacingAndGlyphs">16.9</text>
<text x="761.5" y="302.8" textLength="27.5" lengthAdjust="spacingAndGlyphs">15.5</text>
<text x="761.5" y="421.75" textLength="27.5" lengthAdjust="spacingAndGlyphs">14.0</text>
<text x="761.5" y="540" textLength="27.5" lengthAdjust="spacingAndGlyphs">12.5</text>
</g>
</svg></body></html>
